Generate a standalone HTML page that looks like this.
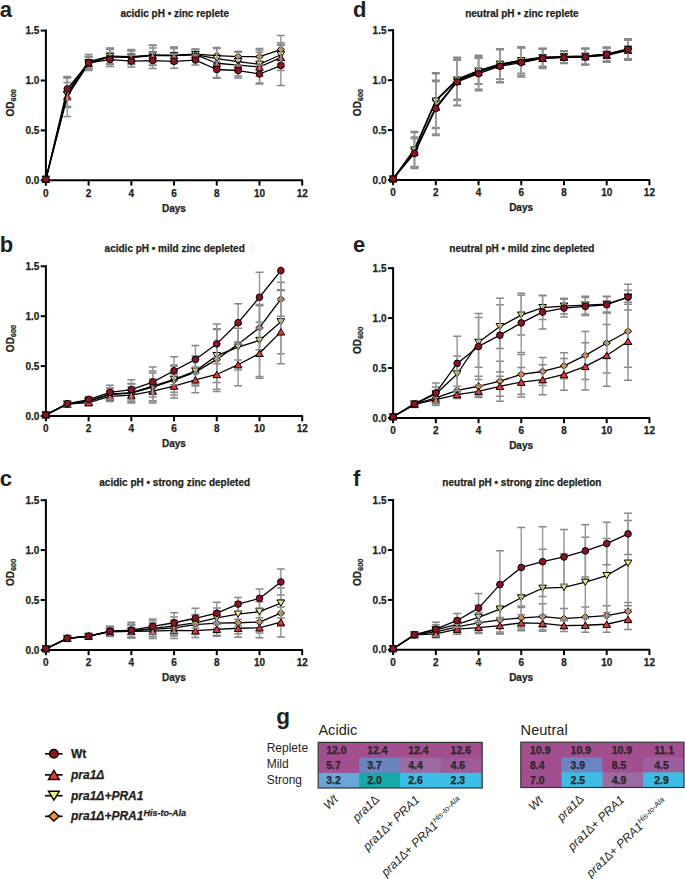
<!DOCTYPE html><html><head><meta charset="utf-8"><style>
html,body{margin:0;padding:0;background:#fff;}
svg{display:block;}
text{font-family:"Liberation Sans",sans-serif;fill:#000;}
.tt,.tk,.lg,.hm{stroke:#231f20;stroke-width:0.25px;}
.pl{font-size:22px;font-weight:bold;fill:#231f20;}
.tt{font-size:10px;font-weight:bold;fill:#231f20;}
.tk{font-size:10px;font-weight:bold;fill:#231f20;}
.sub{font-size:7.4px;}
.lg{font-size:12px;font-weight:bold;font-style:italic;fill:#231f20;}
.hm{font-size:10.5px;font-weight:bold;fill:#2a2a2a;}
.rl{font-size:12px;fill:#231f20;}
.hd{font-size:14.6px;fill:#231f20;}
.xl{font-size:12px;font-style:italic;fill:#231f20;}
</style></head><body>
<svg width="685" height="879" viewBox="0 0 685 879">
<rect width="685" height="879" fill="#fff"/>
<text x="-0.3" y="16.7" class="pl">a</text>
<text x="174.7" y="16.6" class="tt" text-anchor="middle">acidic pH • zinc replete</text>
<path d="M45.9 30.6V180.3H301.9" fill="none" stroke="#000" stroke-width="2" stroke-linecap="square"/>
<path d="M40.7 180.3H45.9" stroke="#000" stroke-width="2"/>
<text x="39.3" y="183.9" class="tk" text-anchor="end">0.0</text>
<path d="M40.7 130.4H45.9" stroke="#000" stroke-width="2"/>
<text x="39.3" y="134" class="tk" text-anchor="end">0.5</text>
<path d="M40.7 80.5H45.9" stroke="#000" stroke-width="2"/>
<text x="39.3" y="84.1" class="tk" text-anchor="end">1.0</text>
<path d="M40.7 30.6H45.9" stroke="#000" stroke-width="2"/>
<text x="39.3" y="34.2" class="tk" text-anchor="end">1.5</text>
<path d="M45.9 180.3V185.6" stroke="#000" stroke-width="2"/>
<text x="45.9" y="196.6" class="tk" text-anchor="middle">0</text>
<path d="M88.62 180.3V185.6" stroke="#000" stroke-width="2"/>
<text x="88.62" y="196.6" class="tk" text-anchor="middle">2</text>
<path d="M131.34 180.3V185.6" stroke="#000" stroke-width="2"/>
<text x="131.34" y="196.6" class="tk" text-anchor="middle">4</text>
<path d="M174.06 180.3V185.6" stroke="#000" stroke-width="2"/>
<text x="174.06" y="196.6" class="tk" text-anchor="middle">6</text>
<path d="M216.78 180.3V185.6" stroke="#000" stroke-width="2"/>
<text x="216.78" y="196.6" class="tk" text-anchor="middle">8</text>
<path d="M259.5 180.3V185.6" stroke="#000" stroke-width="2"/>
<text x="259.5" y="196.6" class="tk" text-anchor="middle">10</text>
<path d="M302.22 180.3V185.6" stroke="#000" stroke-width="2"/>
<text x="302.22" y="196.6" class="tk" text-anchor="middle">12</text>
<text x="173.9" y="211.6" class="tk" text-anchor="middle">Days</text>
<text transform="translate(13.8 116.45) rotate(-90)" class="tk">OD<tspan class="sub" dy="1.9">600</tspan></text>
<path d="M67.26 77.51V107.45" stroke="#9a9a9a" stroke-width="1.5" fill="none"/>
<path d="M63.31 107.45H71.21M63.31 77.51H71.21" stroke="#888" stroke-width="1.5" fill="none"/>
<path d="M88.62 54.55V68.52" stroke="#9a9a9a" stroke-width="1.5" fill="none"/>
<path d="M84.67 68.52H92.57M84.67 54.55H92.57" stroke="#888" stroke-width="1.5" fill="none"/>
<path d="M109.98 48.06V64.03" stroke="#9a9a9a" stroke-width="1.5" fill="none"/>
<path d="M106.03 64.03H113.93M106.03 48.06H113.93" stroke="#888" stroke-width="1.5" fill="none"/>
<path d="M131.34 49.56V63.53" stroke="#9a9a9a" stroke-width="1.5" fill="none"/>
<path d="M127.39 63.53H135.29M127.39 49.56H135.29" stroke="#888" stroke-width="1.5" fill="none"/>
<path d="M152.7 45.07V65.03" stroke="#9a9a9a" stroke-width="1.5" fill="none"/>
<path d="M148.75 65.03H156.65M148.75 45.07H156.65" stroke="#888" stroke-width="1.5" fill="none"/>
<path d="M174.06 47.07V63.04" stroke="#9a9a9a" stroke-width="1.5" fill="none"/>
<path d="M170.11 63.04H178.01M170.11 47.07H178.01" stroke="#888" stroke-width="1.5" fill="none"/>
<path d="M195.42 49.06V59.04" stroke="#9a9a9a" stroke-width="1.5" fill="none"/>
<path d="M191.47 59.04H199.37M191.47 49.06H199.37" stroke="#888" stroke-width="1.5" fill="none"/>
<path d="M216.78 47.57V63.53" stroke="#9a9a9a" stroke-width="1.5" fill="none"/>
<path d="M212.83 63.53H220.73M212.83 47.57H220.73" stroke="#888" stroke-width="1.5" fill="none"/>
<path d="M238.14 51.56V61.54" stroke="#9a9a9a" stroke-width="1.5" fill="none"/>
<path d="M234.19 61.54H242.09M234.19 51.56H242.09" stroke="#888" stroke-width="1.5" fill="none"/>
<path d="M259.5 48.56V64.53" stroke="#9a9a9a" stroke-width="1.5" fill="none"/>
<path d="M255.55 64.53H263.45M255.55 48.56H263.45" stroke="#888" stroke-width="1.5" fill="none"/>
<path d="M280.86 35.59V63.53" stroke="#9a9a9a" stroke-width="1.5" fill="none"/>
<path d="M276.91 63.53H284.81M276.91 35.59H284.81" stroke="#888" stroke-width="1.5" fill="none"/>
<polyline points="45.9,179.2 67.26,92.48 88.62,61.54 109.98,56.05 131.34,56.55 152.7,55.05 174.06,55.05 195.42,54.05 216.78,55.55 238.14,56.55 259.5,56.55 280.86,49.56" fill="none" stroke="#000" stroke-width="1.3" stroke-linejoin="round"/>
<path d="M45.9 175.8L49.6 179.2L45.9 182.6L42.2 179.2Z" fill="#f09030" stroke="#000" stroke-width="1.0"/>
<path d="M67.26 89.08L70.96 92.48L67.26 95.88L63.56 92.48Z" fill="#f09030" stroke="#000" stroke-width="1.0"/>
<path d="M88.62 58.14L92.32 61.54L88.62 64.94L84.92 61.54Z" fill="#f09030" stroke="#000" stroke-width="1.0"/>
<path d="M109.98 52.65L113.68 56.05L109.98 59.45L106.28 56.05Z" fill="#f09030" stroke="#000" stroke-width="1.0"/>
<path d="M131.34 53.15L135.04 56.55L131.34 59.95L127.64 56.55Z" fill="#f09030" stroke="#000" stroke-width="1.0"/>
<path d="M152.7 51.65L156.4 55.05L152.7 58.45L149 55.05Z" fill="#f09030" stroke="#000" stroke-width="1.0"/>
<path d="M174.06 51.65L177.76 55.05L174.06 58.45L170.36 55.05Z" fill="#f09030" stroke="#000" stroke-width="1.0"/>
<path d="M195.42 50.65L199.12 54.05L195.42 57.45L191.72 54.05Z" fill="#f09030" stroke="#000" stroke-width="1.0"/>
<path d="M216.78 52.15L220.48 55.55L216.78 58.95L213.08 55.55Z" fill="#f09030" stroke="#000" stroke-width="1.0"/>
<path d="M238.14 53.15L241.84 56.55L238.14 59.95L234.44 56.55Z" fill="#f09030" stroke="#000" stroke-width="1.0"/>
<path d="M259.5 53.15L263.2 56.55L259.5 59.95L255.8 56.55Z" fill="#f09030" stroke="#000" stroke-width="1.0"/>
<path d="M280.86 46.16L284.56 49.56L280.86 52.96L277.16 49.56Z" fill="#f09030" stroke="#000" stroke-width="1.0"/>
<path d="M67.26 82.5V106.45" stroke="#9a9a9a" stroke-width="1.5" fill="none"/>
<path d="M63.31 106.45H71.21M63.31 82.5H71.21" stroke="#888" stroke-width="1.5" fill="none"/>
<path d="M88.62 56.55V68.52" stroke="#9a9a9a" stroke-width="1.5" fill="none"/>
<path d="M84.67 68.52H92.57M84.67 56.55H92.57" stroke="#888" stroke-width="1.5" fill="none"/>
<path d="M109.98 49.56V63.53" stroke="#9a9a9a" stroke-width="1.5" fill="none"/>
<path d="M106.03 63.53H113.93M106.03 49.56H113.93" stroke="#888" stroke-width="1.5" fill="none"/>
<path d="M131.34 51.06V63.04" stroke="#9a9a9a" stroke-width="1.5" fill="none"/>
<path d="M127.39 63.04H135.29M127.39 51.06H135.29" stroke="#888" stroke-width="1.5" fill="none"/>
<path d="M152.7 48.07V62.04" stroke="#9a9a9a" stroke-width="1.5" fill="none"/>
<path d="M148.75 62.04H156.65M148.75 48.07H156.65" stroke="#888" stroke-width="1.5" fill="none"/>
<path d="M174.06 48.56V62.54" stroke="#9a9a9a" stroke-width="1.5" fill="none"/>
<path d="M170.11 62.54H178.01M170.11 48.56H178.01" stroke="#888" stroke-width="1.5" fill="none"/>
<path d="M195.42 49.56V59.54" stroke="#9a9a9a" stroke-width="1.5" fill="none"/>
<path d="M191.47 59.54H199.37M191.47 49.56H199.37" stroke="#888" stroke-width="1.5" fill="none"/>
<path d="M216.78 48.56V68.52" stroke="#9a9a9a" stroke-width="1.5" fill="none"/>
<path d="M212.83 68.52H220.73M212.83 48.56H220.73" stroke="#888" stroke-width="1.5" fill="none"/>
<path d="M238.14 51.56V71.52" stroke="#9a9a9a" stroke-width="1.5" fill="none"/>
<path d="M234.19 71.52H242.09M234.19 51.56H242.09" stroke="#888" stroke-width="1.5" fill="none"/>
<path d="M259.5 52.26V76.21" stroke="#9a9a9a" stroke-width="1.5" fill="none"/>
<path d="M255.55 76.21H263.45M255.55 52.26H263.45" stroke="#888" stroke-width="1.5" fill="none"/>
<path d="M280.86 42.78V66.73" stroke="#9a9a9a" stroke-width="1.5" fill="none"/>
<path d="M276.91 66.73H284.81M276.91 42.78H284.81" stroke="#888" stroke-width="1.5" fill="none"/>
<polyline points="45.9,179.2 67.26,94.47 88.62,62.54 109.98,56.55 131.34,57.05 152.7,55.05 174.06,55.55 195.42,54.55 216.78,58.54 238.14,61.54 259.5,64.23 280.86,54.75" fill="none" stroke="#000" stroke-width="1.3" stroke-linejoin="round"/>
<path d="M45.9 182.3L49.7 176.1L42.1 176.1Z" fill="#f0ea7a" stroke="#000" stroke-width="1.0" stroke-linejoin="miter"/>
<path d="M67.26 97.57L71.06 91.37L63.46 91.37Z" fill="#f0ea7a" stroke="#000" stroke-width="1.0" stroke-linejoin="miter"/>
<path d="M88.62 65.64L92.42 59.44L84.82 59.44Z" fill="#f0ea7a" stroke="#000" stroke-width="1.0" stroke-linejoin="miter"/>
<path d="M109.98 59.65L113.78 53.45L106.18 53.45Z" fill="#f0ea7a" stroke="#000" stroke-width="1.0" stroke-linejoin="miter"/>
<path d="M131.34 60.15L135.14 53.95L127.54 53.95Z" fill="#f0ea7a" stroke="#000" stroke-width="1.0" stroke-linejoin="miter"/>
<path d="M152.7 58.15L156.5 51.95L148.9 51.95Z" fill="#f0ea7a" stroke="#000" stroke-width="1.0" stroke-linejoin="miter"/>
<path d="M174.06 58.65L177.86 52.45L170.26 52.45Z" fill="#f0ea7a" stroke="#000" stroke-width="1.0" stroke-linejoin="miter"/>
<path d="M195.42 57.65L199.22 51.45L191.62 51.45Z" fill="#f0ea7a" stroke="#000" stroke-width="1.0" stroke-linejoin="miter"/>
<path d="M216.78 61.64L220.58 55.44L212.98 55.44Z" fill="#f0ea7a" stroke="#000" stroke-width="1.0" stroke-linejoin="miter"/>
<path d="M238.14 64.64L241.94 58.44L234.34 58.44Z" fill="#f0ea7a" stroke="#000" stroke-width="1.0" stroke-linejoin="miter"/>
<path d="M259.5 67.33L263.3 61.13L255.7 61.13Z" fill="#f0ea7a" stroke="#000" stroke-width="1.0" stroke-linejoin="miter"/>
<path d="M280.86 57.85L284.66 51.65L277.06 51.65Z" fill="#f0ea7a" stroke="#000" stroke-width="1.0" stroke-linejoin="miter"/>
<path d="M67.26 76.51V116.43" stroke="#9a9a9a" stroke-width="1.5" fill="none"/>
<path d="M63.31 116.43H71.21M63.31 76.51H71.21" stroke="#888" stroke-width="1.5" fill="none"/>
<path d="M88.62 56.55V70.52" stroke="#9a9a9a" stroke-width="1.5" fill="none"/>
<path d="M84.67 70.52H92.57M84.67 56.55H92.57" stroke="#888" stroke-width="1.5" fill="none"/>
<path d="M109.98 48.56V64.53" stroke="#9a9a9a" stroke-width="1.5" fill="none"/>
<path d="M106.03 64.53H113.93M106.03 48.56H113.93" stroke="#888" stroke-width="1.5" fill="none"/>
<path d="M131.34 50.56V64.53" stroke="#9a9a9a" stroke-width="1.5" fill="none"/>
<path d="M127.39 64.53H135.29M127.39 50.56H135.29" stroke="#888" stroke-width="1.5" fill="none"/>
<path d="M152.7 45.57V65.53" stroke="#9a9a9a" stroke-width="1.5" fill="none"/>
<path d="M148.75 65.53H156.65M148.75 45.57H156.65" stroke="#888" stroke-width="1.5" fill="none"/>
<path d="M174.06 47.57V63.53" stroke="#9a9a9a" stroke-width="1.5" fill="none"/>
<path d="M170.11 63.53H178.01M170.11 47.57H178.01" stroke="#888" stroke-width="1.5" fill="none"/>
<path d="M195.42 49.56V59.54" stroke="#9a9a9a" stroke-width="1.5" fill="none"/>
<path d="M191.47 59.54H199.37M191.47 49.56H199.37" stroke="#888" stroke-width="1.5" fill="none"/>
<path d="M216.78 48.26V78.2" stroke="#9a9a9a" stroke-width="1.5" fill="none"/>
<path d="M212.83 78.2H220.73M212.83 48.26H220.73" stroke="#888" stroke-width="1.5" fill="none"/>
<path d="M238.14 52.16V78.1" stroke="#9a9a9a" stroke-width="1.5" fill="none"/>
<path d="M234.19 78.1H242.09M234.19 52.16H242.09" stroke="#888" stroke-width="1.5" fill="none"/>
<path d="M259.5 50.06V83.99" stroke="#9a9a9a" stroke-width="1.5" fill="none"/>
<path d="M255.55 83.99H263.45M255.55 50.06H263.45" stroke="#888" stroke-width="1.5" fill="none"/>
<path d="M280.86 44.57V70.52" stroke="#9a9a9a" stroke-width="1.5" fill="none"/>
<path d="M276.91 70.52H284.81M276.91 44.57H284.81" stroke="#888" stroke-width="1.5" fill="none"/>
<polyline points="45.9,179.2 67.26,96.47 88.62,63.53 109.98,56.55 131.34,57.55 152.7,55.55 174.06,55.55 195.42,54.55 216.78,63.23 238.14,65.13 259.5,67.03 280.86,57.55" fill="none" stroke="#000" stroke-width="1.3" stroke-linejoin="round"/>
<path d="M45.9 176L49.7 182.4L42.1 182.4Z" fill="#ee3535" stroke="#000" stroke-width="1.0" stroke-linejoin="miter"/>
<path d="M67.26 93.27L71.06 99.67L63.46 99.67Z" fill="#ee3535" stroke="#000" stroke-width="1.0" stroke-linejoin="miter"/>
<path d="M88.62 60.33L92.42 66.73L84.82 66.73Z" fill="#ee3535" stroke="#000" stroke-width="1.0" stroke-linejoin="miter"/>
<path d="M109.98 53.35L113.78 59.75L106.18 59.75Z" fill="#ee3535" stroke="#000" stroke-width="1.0" stroke-linejoin="miter"/>
<path d="M131.34 54.35L135.14 60.75L127.54 60.75Z" fill="#ee3535" stroke="#000" stroke-width="1.0" stroke-linejoin="miter"/>
<path d="M152.7 52.35L156.5 58.75L148.9 58.75Z" fill="#ee3535" stroke="#000" stroke-width="1.0" stroke-linejoin="miter"/>
<path d="M174.06 52.35L177.86 58.75L170.26 58.75Z" fill="#ee3535" stroke="#000" stroke-width="1.0" stroke-linejoin="miter"/>
<path d="M195.42 51.35L199.22 57.75L191.62 57.75Z" fill="#ee3535" stroke="#000" stroke-width="1.0" stroke-linejoin="miter"/>
<path d="M216.78 60.03L220.58 66.43L212.98 66.43Z" fill="#ee3535" stroke="#000" stroke-width="1.0" stroke-linejoin="miter"/>
<path d="M238.14 61.93L241.94 68.33L234.34 68.33Z" fill="#ee3535" stroke="#000" stroke-width="1.0" stroke-linejoin="miter"/>
<path d="M259.5 63.83L263.3 70.23L255.7 70.23Z" fill="#ee3535" stroke="#000" stroke-width="1.0" stroke-linejoin="miter"/>
<path d="M280.86 54.35L284.66 60.75L277.06 60.75Z" fill="#ee3535" stroke="#000" stroke-width="1.0" stroke-linejoin="miter"/>
<path d="M67.26 78V99.96" stroke="#9a9a9a" stroke-width="1.5" fill="none"/>
<path d="M63.31 99.96H71.21M63.31 78H71.21" stroke="#888" stroke-width="1.5" fill="none"/>
<path d="M88.62 56.95V68.92" stroke="#9a9a9a" stroke-width="1.5" fill="none"/>
<path d="M84.67 68.92H92.57M84.67 56.95H92.57" stroke="#888" stroke-width="1.5" fill="none"/>
<path d="M109.98 52.56V66.53" stroke="#9a9a9a" stroke-width="1.5" fill="none"/>
<path d="M106.03 66.53H113.93M106.03 52.56H113.93" stroke="#888" stroke-width="1.5" fill="none"/>
<path d="M131.34 55.05V67.03" stroke="#9a9a9a" stroke-width="1.5" fill="none"/>
<path d="M127.39 67.03H135.29M127.39 55.05H135.29" stroke="#888" stroke-width="1.5" fill="none"/>
<path d="M152.7 52.56V68.52" stroke="#9a9a9a" stroke-width="1.5" fill="none"/>
<path d="M148.75 68.52H156.65M148.75 52.56H156.65" stroke="#888" stroke-width="1.5" fill="none"/>
<path d="M174.06 54.35V68.32" stroke="#9a9a9a" stroke-width="1.5" fill="none"/>
<path d="M170.11 68.32H178.01M170.11 54.35H178.01" stroke="#888" stroke-width="1.5" fill="none"/>
<path d="M195.42 55.05V65.03" stroke="#9a9a9a" stroke-width="1.5" fill="none"/>
<path d="M191.47 65.03H199.37M191.47 55.05H199.37" stroke="#888" stroke-width="1.5" fill="none"/>
<path d="M216.78 61.54V77.51" stroke="#9a9a9a" stroke-width="1.5" fill="none"/>
<path d="M212.83 77.51H220.73M212.83 61.54H220.73" stroke="#888" stroke-width="1.5" fill="none"/>
<path d="M238.14 65.03V76.01" stroke="#9a9a9a" stroke-width="1.5" fill="none"/>
<path d="M234.19 76.01H242.09M234.19 65.03H242.09" stroke="#888" stroke-width="1.5" fill="none"/>
<path d="M259.5 65.03V83" stroke="#9a9a9a" stroke-width="1.5" fill="none"/>
<path d="M255.55 83H263.45M255.55 65.03H263.45" stroke="#888" stroke-width="1.5" fill="none"/>
<path d="M280.86 45.57V85.49" stroke="#9a9a9a" stroke-width="1.5" fill="none"/>
<path d="M276.91 85.49H284.81M276.91 45.57H284.81" stroke="#888" stroke-width="1.5" fill="none"/>
<polyline points="45.9,179.2 67.26,88.98 88.62,62.94 109.98,59.54 131.34,61.04 152.7,60.54 174.06,61.34 195.42,60.04 216.78,69.52 238.14,70.52 259.5,74.01 280.86,65.53" fill="none" stroke="#000" stroke-width="1.3" stroke-linejoin="round"/>
<circle cx="45.9" cy="179.2" r="3.3" fill="#93121f" stroke="#000" stroke-width="1.0"/>
<circle cx="67.26" cy="88.98" r="3.3" fill="#93121f" stroke="#000" stroke-width="1.0"/>
<circle cx="88.62" cy="62.94" r="3.3" fill="#93121f" stroke="#000" stroke-width="1.0"/>
<circle cx="109.98" cy="59.54" r="3.3" fill="#93121f" stroke="#000" stroke-width="1.0"/>
<circle cx="131.34" cy="61.04" r="3.3" fill="#93121f" stroke="#000" stroke-width="1.0"/>
<circle cx="152.7" cy="60.54" r="3.3" fill="#93121f" stroke="#000" stroke-width="1.0"/>
<circle cx="174.06" cy="61.34" r="3.3" fill="#93121f" stroke="#000" stroke-width="1.0"/>
<circle cx="195.42" cy="60.04" r="3.3" fill="#93121f" stroke="#000" stroke-width="1.0"/>
<circle cx="216.78" cy="69.52" r="3.3" fill="#93121f" stroke="#000" stroke-width="1.0"/>
<circle cx="238.14" cy="70.52" r="3.3" fill="#93121f" stroke="#000" stroke-width="1.0"/>
<circle cx="259.5" cy="74.01" r="3.3" fill="#93121f" stroke="#000" stroke-width="1.0"/>
<circle cx="280.86" cy="65.53" r="3.3" fill="#93121f" stroke="#000" stroke-width="1.0"/>
<text x="-0.3" y="251.6" class="pl">b</text>
<text x="174.7" y="251.9" class="tt" text-anchor="middle">acidic pH • mild zinc depleted</text>
<path d="M45.9 266.3V416H301.9" fill="none" stroke="#000" stroke-width="2" stroke-linecap="square"/>
<path d="M40.7 416H45.9" stroke="#000" stroke-width="2"/>
<text x="39.3" y="419.6" class="tk" text-anchor="end">0.0</text>
<path d="M40.7 366.1H45.9" stroke="#000" stroke-width="2"/>
<text x="39.3" y="369.7" class="tk" text-anchor="end">0.5</text>
<path d="M40.7 316.2H45.9" stroke="#000" stroke-width="2"/>
<text x="39.3" y="319.8" class="tk" text-anchor="end">1.0</text>
<path d="M40.7 266.3H45.9" stroke="#000" stroke-width="2"/>
<text x="39.3" y="269.9" class="tk" text-anchor="end">1.5</text>
<path d="M45.9 416V421.3" stroke="#000" stroke-width="2"/>
<text x="45.9" y="432.3" class="tk" text-anchor="middle">0</text>
<path d="M88.62 416V421.3" stroke="#000" stroke-width="2"/>
<text x="88.62" y="432.3" class="tk" text-anchor="middle">2</text>
<path d="M131.34 416V421.3" stroke="#000" stroke-width="2"/>
<text x="131.34" y="432.3" class="tk" text-anchor="middle">4</text>
<path d="M174.06 416V421.3" stroke="#000" stroke-width="2"/>
<text x="174.06" y="432.3" class="tk" text-anchor="middle">6</text>
<path d="M216.78 416V421.3" stroke="#000" stroke-width="2"/>
<text x="216.78" y="432.3" class="tk" text-anchor="middle">8</text>
<path d="M259.5 416V421.3" stroke="#000" stroke-width="2"/>
<text x="259.5" y="432.3" class="tk" text-anchor="middle">10</text>
<path d="M302.22 416V421.3" stroke="#000" stroke-width="2"/>
<text x="302.22" y="432.3" class="tk" text-anchor="middle">12</text>
<text x="173.9" y="447.3" class="tk" text-anchor="middle">Days</text>
<text transform="translate(13.8 352.15) rotate(-90)" class="tk">OD<tspan class="sub" dy="1.9">600</tspan></text>
<path d="M67.26 401.03V407.02" stroke="#9a9a9a" stroke-width="1.5" fill="none"/>
<path d="M63.31 407.02H71.21M63.31 401.03H71.21" stroke="#888" stroke-width="1.5" fill="none"/>
<path d="M88.62 398.04V404.02" stroke="#9a9a9a" stroke-width="1.5" fill="none"/>
<path d="M84.67 404.02H92.57M84.67 398.04H92.57" stroke="#888" stroke-width="1.5" fill="none"/>
<path d="M109.98 388.56V400.53" stroke="#9a9a9a" stroke-width="1.5" fill="none"/>
<path d="M106.03 400.53H113.93M106.03 388.56H113.93" stroke="#888" stroke-width="1.5" fill="none"/>
<path d="M131.34 384.06V402.03" stroke="#9a9a9a" stroke-width="1.5" fill="none"/>
<path d="M127.39 402.03H135.29M127.39 384.06H135.29" stroke="#888" stroke-width="1.5" fill="none"/>
<path d="M152.7 373.09V401.03" stroke="#9a9a9a" stroke-width="1.5" fill="none"/>
<path d="M148.75 401.03H156.65M148.75 373.09H156.65" stroke="#888" stroke-width="1.5" fill="none"/>
<path d="M174.06 365.1V395.04" stroke="#9a9a9a" stroke-width="1.5" fill="none"/>
<path d="M170.11 395.04H178.01M170.11 365.1H178.01" stroke="#888" stroke-width="1.5" fill="none"/>
<path d="M195.42 359.11V385.06" stroke="#9a9a9a" stroke-width="1.5" fill="none"/>
<path d="M191.47 385.06H199.37M191.47 359.11H199.37" stroke="#888" stroke-width="1.5" fill="none"/>
<path d="M216.78 329.47V389.35" stroke="#9a9a9a" stroke-width="1.5" fill="none"/>
<path d="M212.83 389.35H220.73M212.83 329.47H220.73" stroke="#888" stroke-width="1.5" fill="none"/>
<path d="M238.14 328.18V360.11" stroke="#9a9a9a" stroke-width="1.5" fill="none"/>
<path d="M234.19 360.11H242.09M234.19 328.18H242.09" stroke="#888" stroke-width="1.5" fill="none"/>
<path d="M259.5 305.72V349.63" stroke="#9a9a9a" stroke-width="1.5" fill="none"/>
<path d="M255.55 349.63H263.45M255.55 305.72H263.45" stroke="#888" stroke-width="1.5" fill="none"/>
<path d="M280.86 282.27V316.2" stroke="#9a9a9a" stroke-width="1.5" fill="none"/>
<path d="M276.91 316.2H284.81M276.91 282.27H284.81" stroke="#888" stroke-width="1.5" fill="none"/>
<polyline points="45.9,414.9 67.26,404.02 88.62,401.03 109.98,394.54 131.34,393.05 152.7,387.06 174.06,380.07 195.42,372.09 216.78,359.41 238.14,344.14 259.5,327.68 280.86,299.23" fill="none" stroke="#000" stroke-width="1.3" stroke-linejoin="round"/>
<path d="M45.9 411.5L49.6 414.9L45.9 418.3L42.2 414.9Z" fill="#f09030" stroke="#000" stroke-width="1.0"/>
<path d="M67.26 400.62L70.96 404.02L67.26 407.42L63.56 404.02Z" fill="#f09030" stroke="#000" stroke-width="1.0"/>
<path d="M88.62 397.63L92.32 401.03L88.62 404.43L84.92 401.03Z" fill="#f09030" stroke="#000" stroke-width="1.0"/>
<path d="M109.98 391.14L113.68 394.54L109.98 397.94L106.28 394.54Z" fill="#f09030" stroke="#000" stroke-width="1.0"/>
<path d="M131.34 389.65L135.04 393.05L131.34 396.45L127.64 393.05Z" fill="#f09030" stroke="#000" stroke-width="1.0"/>
<path d="M152.7 383.66L156.4 387.06L152.7 390.46L149 387.06Z" fill="#f09030" stroke="#000" stroke-width="1.0"/>
<path d="M174.06 376.67L177.76 380.07L174.06 383.47L170.36 380.07Z" fill="#f09030" stroke="#000" stroke-width="1.0"/>
<path d="M195.42 368.69L199.12 372.09L195.42 375.49L191.72 372.09Z" fill="#f09030" stroke="#000" stroke-width="1.0"/>
<path d="M216.78 356.01L220.48 359.41L216.78 362.81L213.08 359.41Z" fill="#f09030" stroke="#000" stroke-width="1.0"/>
<path d="M238.14 340.74L241.84 344.14L238.14 347.54L234.44 344.14Z" fill="#f09030" stroke="#000" stroke-width="1.0"/>
<path d="M259.5 324.28L263.2 327.68L259.5 331.08L255.8 327.68Z" fill="#f09030" stroke="#000" stroke-width="1.0"/>
<path d="M280.86 295.83L284.56 299.23L280.86 302.63L277.16 299.23Z" fill="#f09030" stroke="#000" stroke-width="1.0"/>
<path d="M67.26 401.03V407.02" stroke="#9a9a9a" stroke-width="1.5" fill="none"/>
<path d="M63.31 407.02H71.21M63.31 401.03H71.21" stroke="#888" stroke-width="1.5" fill="none"/>
<path d="M88.62 398.04V404.02" stroke="#9a9a9a" stroke-width="1.5" fill="none"/>
<path d="M84.67 404.02H92.57M84.67 398.04H92.57" stroke="#888" stroke-width="1.5" fill="none"/>
<path d="M109.98 388.06V400.03" stroke="#9a9a9a" stroke-width="1.5" fill="none"/>
<path d="M106.03 400.03H113.93M106.03 388.06H113.93" stroke="#888" stroke-width="1.5" fill="none"/>
<path d="M131.34 383.56V401.53" stroke="#9a9a9a" stroke-width="1.5" fill="none"/>
<path d="M127.39 401.53H135.29M127.39 383.56H135.29" stroke="#888" stroke-width="1.5" fill="none"/>
<path d="M152.7 371.09V401.03" stroke="#9a9a9a" stroke-width="1.5" fill="none"/>
<path d="M148.75 401.03H156.65M148.75 371.09H156.65" stroke="#888" stroke-width="1.5" fill="none"/>
<path d="M174.06 366.3V392.25" stroke="#9a9a9a" stroke-width="1.5" fill="none"/>
<path d="M170.11 392.25H178.01M170.11 366.3H178.01" stroke="#888" stroke-width="1.5" fill="none"/>
<path d="M195.42 356.12V386.06" stroke="#9a9a9a" stroke-width="1.5" fill="none"/>
<path d="M191.47 386.06H199.37M191.47 356.12H199.37" stroke="#888" stroke-width="1.5" fill="none"/>
<path d="M216.78 328.68V382.57" stroke="#9a9a9a" stroke-width="1.5" fill="none"/>
<path d="M212.83 382.57H220.73M212.83 328.68H220.73" stroke="#888" stroke-width="1.5" fill="none"/>
<path d="M238.14 324.18V370.09" stroke="#9a9a9a" stroke-width="1.5" fill="none"/>
<path d="M234.19 370.09H242.09M234.19 324.18H242.09" stroke="#888" stroke-width="1.5" fill="none"/>
<path d="M259.5 304.52V376.38" stroke="#9a9a9a" stroke-width="1.5" fill="none"/>
<path d="M255.55 376.38H263.45M255.55 304.52H263.45" stroke="#888" stroke-width="1.5" fill="none"/>
<path d="M280.86 289.85V353.72" stroke="#9a9a9a" stroke-width="1.5" fill="none"/>
<path d="M276.91 353.72H284.81M276.91 289.85H284.81" stroke="#888" stroke-width="1.5" fill="none"/>
<polyline points="45.9,414.9 67.26,404.02 88.62,401.03 109.98,394.04 131.34,392.55 152.7,386.06 174.06,379.27 195.42,371.09 216.78,355.62 238.14,347.14 259.5,340.45 280.86,321.79" fill="none" stroke="#000" stroke-width="1.3" stroke-linejoin="round"/>
<path d="M45.9 418L49.7 411.8L42.1 411.8Z" fill="#f0ea7a" stroke="#000" stroke-width="1.0" stroke-linejoin="miter"/>
<path d="M67.26 407.12L71.06 400.92L63.46 400.92Z" fill="#f0ea7a" stroke="#000" stroke-width="1.0" stroke-linejoin="miter"/>
<path d="M88.62 404.13L92.42 397.93L84.82 397.93Z" fill="#f0ea7a" stroke="#000" stroke-width="1.0" stroke-linejoin="miter"/>
<path d="M109.98 397.14L113.78 390.94L106.18 390.94Z" fill="#f0ea7a" stroke="#000" stroke-width="1.0" stroke-linejoin="miter"/>
<path d="M131.34 395.65L135.14 389.45L127.54 389.45Z" fill="#f0ea7a" stroke="#000" stroke-width="1.0" stroke-linejoin="miter"/>
<path d="M152.7 389.16L156.5 382.96L148.9 382.96Z" fill="#f0ea7a" stroke="#000" stroke-width="1.0" stroke-linejoin="miter"/>
<path d="M174.06 382.37L177.86 376.17L170.26 376.17Z" fill="#f0ea7a" stroke="#000" stroke-width="1.0" stroke-linejoin="miter"/>
<path d="M195.42 374.19L199.22 367.99L191.62 367.99Z" fill="#f0ea7a" stroke="#000" stroke-width="1.0" stroke-linejoin="miter"/>
<path d="M216.78 358.72L220.58 352.52L212.98 352.52Z" fill="#f0ea7a" stroke="#000" stroke-width="1.0" stroke-linejoin="miter"/>
<path d="M238.14 350.24L241.94 344.04L234.34 344.04Z" fill="#f0ea7a" stroke="#000" stroke-width="1.0" stroke-linejoin="miter"/>
<path d="M259.5 343.55L263.3 337.35L255.7 337.35Z" fill="#f0ea7a" stroke="#000" stroke-width="1.0" stroke-linejoin="miter"/>
<path d="M280.86 324.89L284.66 318.69L277.06 318.69Z" fill="#f0ea7a" stroke="#000" stroke-width="1.0" stroke-linejoin="miter"/>
<path d="M67.26 401.03V407.02" stroke="#9a9a9a" stroke-width="1.5" fill="none"/>
<path d="M63.31 407.02H71.21M63.31 401.03H71.21" stroke="#888" stroke-width="1.5" fill="none"/>
<path d="M88.62 399.63V405.62" stroke="#9a9a9a" stroke-width="1.5" fill="none"/>
<path d="M84.67 405.62H92.57M84.67 399.63H92.57" stroke="#888" stroke-width="1.5" fill="none"/>
<path d="M109.98 391.45V401.43" stroke="#9a9a9a" stroke-width="1.5" fill="none"/>
<path d="M106.03 401.43H113.93M106.03 391.45H113.93" stroke="#888" stroke-width="1.5" fill="none"/>
<path d="M131.34 387.06V403.03" stroke="#9a9a9a" stroke-width="1.5" fill="none"/>
<path d="M127.39 403.03H135.29M127.39 387.06H135.29" stroke="#888" stroke-width="1.5" fill="none"/>
<path d="M152.7 379.07V403.03" stroke="#9a9a9a" stroke-width="1.5" fill="none"/>
<path d="M148.75 403.03H156.65M148.75 379.07H156.65" stroke="#888" stroke-width="1.5" fill="none"/>
<path d="M174.06 374.08V398.04" stroke="#9a9a9a" stroke-width="1.5" fill="none"/>
<path d="M170.11 398.04H178.01M170.11 374.08H178.01" stroke="#888" stroke-width="1.5" fill="none"/>
<path d="M195.42 366.9V392.85" stroke="#9a9a9a" stroke-width="1.5" fill="none"/>
<path d="M191.47 392.85H199.37M191.47 366.9H199.37" stroke="#888" stroke-width="1.5" fill="none"/>
<path d="M216.78 357.52V391.45" stroke="#9a9a9a" stroke-width="1.5" fill="none"/>
<path d="M212.83 391.45H220.73M212.83 357.52H220.73" stroke="#888" stroke-width="1.5" fill="none"/>
<path d="M238.14 343.74V385.66" stroke="#9a9a9a" stroke-width="1.5" fill="none"/>
<path d="M234.19 385.66H242.09M234.19 343.74H242.09" stroke="#888" stroke-width="1.5" fill="none"/>
<path d="M259.5 328.38V378.28" stroke="#9a9a9a" stroke-width="1.5" fill="none"/>
<path d="M255.55 378.28H263.45M255.55 328.38H263.45" stroke="#888" stroke-width="1.5" fill="none"/>
<path d="M280.86 299.93V363.8" stroke="#9a9a9a" stroke-width="1.5" fill="none"/>
<path d="M276.91 363.8H284.81M276.91 299.93H284.81" stroke="#888" stroke-width="1.5" fill="none"/>
<polyline points="45.9,414.9 67.26,404.02 88.62,402.63 109.98,396.44 131.34,395.04 152.7,391.05 174.06,386.06 195.42,379.87 216.78,374.48 238.14,364.7 259.5,353.33 280.86,331.87" fill="none" stroke="#000" stroke-width="1.3" stroke-linejoin="round"/>
<path d="M45.9 411.7L49.7 418.1L42.1 418.1Z" fill="#ee3535" stroke="#000" stroke-width="1.0" stroke-linejoin="miter"/>
<path d="M67.26 400.82L71.06 407.22L63.46 407.22Z" fill="#ee3535" stroke="#000" stroke-width="1.0" stroke-linejoin="miter"/>
<path d="M88.62 399.43L92.42 405.83L84.82 405.83Z" fill="#ee3535" stroke="#000" stroke-width="1.0" stroke-linejoin="miter"/>
<path d="M109.98 393.24L113.78 399.64L106.18 399.64Z" fill="#ee3535" stroke="#000" stroke-width="1.0" stroke-linejoin="miter"/>
<path d="M131.34 391.84L135.14 398.24L127.54 398.24Z" fill="#ee3535" stroke="#000" stroke-width="1.0" stroke-linejoin="miter"/>
<path d="M152.7 387.85L156.5 394.25L148.9 394.25Z" fill="#ee3535" stroke="#000" stroke-width="1.0" stroke-linejoin="miter"/>
<path d="M174.06 382.86L177.86 389.26L170.26 389.26Z" fill="#ee3535" stroke="#000" stroke-width="1.0" stroke-linejoin="miter"/>
<path d="M195.42 376.67L199.22 383.07L191.62 383.07Z" fill="#ee3535" stroke="#000" stroke-width="1.0" stroke-linejoin="miter"/>
<path d="M216.78 371.28L220.58 377.68L212.98 377.68Z" fill="#ee3535" stroke="#000" stroke-width="1.0" stroke-linejoin="miter"/>
<path d="M238.14 361.5L241.94 367.9L234.34 367.9Z" fill="#ee3535" stroke="#000" stroke-width="1.0" stroke-linejoin="miter"/>
<path d="M259.5 350.13L263.3 356.53L255.7 356.53Z" fill="#ee3535" stroke="#000" stroke-width="1.0" stroke-linejoin="miter"/>
<path d="M280.86 328.67L284.66 335.07L277.06 335.07Z" fill="#ee3535" stroke="#000" stroke-width="1.0" stroke-linejoin="miter"/>
<path d="M67.26 400.63V406.62" stroke="#9a9a9a" stroke-width="1.5" fill="none"/>
<path d="M63.31 406.62H71.21M63.31 400.63H71.21" stroke="#888" stroke-width="1.5" fill="none"/>
<path d="M88.62 396.54V402.53" stroke="#9a9a9a" stroke-width="1.5" fill="none"/>
<path d="M84.67 402.53H92.57M84.67 396.54H92.57" stroke="#888" stroke-width="1.5" fill="none"/>
<path d="M109.98 385.36V399.33" stroke="#9a9a9a" stroke-width="1.5" fill="none"/>
<path d="M106.03 399.33H113.93M106.03 385.36H113.93" stroke="#888" stroke-width="1.5" fill="none"/>
<path d="M131.34 379.67V399.63" stroke="#9a9a9a" stroke-width="1.5" fill="none"/>
<path d="M127.39 399.63H135.29M127.39 379.67H135.29" stroke="#888" stroke-width="1.5" fill="none"/>
<path d="M152.7 367.1V397.04" stroke="#9a9a9a" stroke-width="1.5" fill="none"/>
<path d="M148.75 397.04H156.65M148.75 367.1H156.65" stroke="#888" stroke-width="1.5" fill="none"/>
<path d="M174.06 356.82V384.76" stroke="#9a9a9a" stroke-width="1.5" fill="none"/>
<path d="M170.11 384.76H178.01M170.11 356.82H178.01" stroke="#888" stroke-width="1.5" fill="none"/>
<path d="M195.42 345.44V373.39" stroke="#9a9a9a" stroke-width="1.5" fill="none"/>
<path d="M191.47 373.39H199.37M191.47 345.44H199.37" stroke="#888" stroke-width="1.5" fill="none"/>
<path d="M216.78 323.88V363.8" stroke="#9a9a9a" stroke-width="1.5" fill="none"/>
<path d="M212.83 363.8H220.73M212.83 323.88H220.73" stroke="#888" stroke-width="1.5" fill="none"/>
<path d="M238.14 303.73V341.65" stroke="#9a9a9a" stroke-width="1.5" fill="none"/>
<path d="M234.19 341.65H242.09M234.19 303.73H242.09" stroke="#888" stroke-width="1.5" fill="none"/>
<path d="M259.5 272.29V322.19" stroke="#9a9a9a" stroke-width="1.5" fill="none"/>
<path d="M255.55 322.19H263.45M255.55 272.29H263.45" stroke="#888" stroke-width="1.5" fill="none"/>
<path d="M280.86 266.3V290.55" stroke="#9a9a9a" stroke-width="1.5" fill="none"/>
<path d="M276.91 290.55H284.81" stroke="#888" stroke-width="1.5" fill="none"/>
<polyline points="45.9,414.9 67.26,403.62 88.62,399.53 109.98,392.35 131.34,389.65 152.7,382.07 174.06,370.79 195.42,359.41 216.78,343.84 238.14,322.69 259.5,297.24 280.86,270.59" fill="none" stroke="#000" stroke-width="1.3" stroke-linejoin="round"/>
<circle cx="45.9" cy="414.9" r="3.3" fill="#93121f" stroke="#000" stroke-width="1.0"/>
<circle cx="67.26" cy="403.62" r="3.3" fill="#93121f" stroke="#000" stroke-width="1.0"/>
<circle cx="88.62" cy="399.53" r="3.3" fill="#93121f" stroke="#000" stroke-width="1.0"/>
<circle cx="109.98" cy="392.35" r="3.3" fill="#93121f" stroke="#000" stroke-width="1.0"/>
<circle cx="131.34" cy="389.65" r="3.3" fill="#93121f" stroke="#000" stroke-width="1.0"/>
<circle cx="152.7" cy="382.07" r="3.3" fill="#93121f" stroke="#000" stroke-width="1.0"/>
<circle cx="174.06" cy="370.79" r="3.3" fill="#93121f" stroke="#000" stroke-width="1.0"/>
<circle cx="195.42" cy="359.41" r="3.3" fill="#93121f" stroke="#000" stroke-width="1.0"/>
<circle cx="216.78" cy="343.84" r="3.3" fill="#93121f" stroke="#000" stroke-width="1.0"/>
<circle cx="238.14" cy="322.69" r="3.3" fill="#93121f" stroke="#000" stroke-width="1.0"/>
<circle cx="259.5" cy="297.24" r="3.3" fill="#93121f" stroke="#000" stroke-width="1.0"/>
<circle cx="280.86" cy="270.59" r="3.3" fill="#93121f" stroke="#000" stroke-width="1.0"/>
<text x="-0.3" y="486.4" class="pl">c</text>
<text x="174.7" y="486.2" class="tt" text-anchor="middle">acidic pH • strong zinc depleted</text>
<path d="M45.9 500.2V649.9H301.9" fill="none" stroke="#000" stroke-width="2" stroke-linecap="square"/>
<path d="M40.7 649.9H45.9" stroke="#000" stroke-width="2"/>
<text x="39.3" y="653.5" class="tk" text-anchor="end">0.0</text>
<path d="M40.7 600H45.9" stroke="#000" stroke-width="2"/>
<text x="39.3" y="603.6" class="tk" text-anchor="end">0.5</text>
<path d="M40.7 550.1H45.9" stroke="#000" stroke-width="2"/>
<text x="39.3" y="553.7" class="tk" text-anchor="end">1.0</text>
<path d="M40.7 500.2H45.9" stroke="#000" stroke-width="2"/>
<text x="39.3" y="503.8" class="tk" text-anchor="end">1.5</text>
<path d="M45.9 649.9V655.2" stroke="#000" stroke-width="2"/>
<text x="45.9" y="666.2" class="tk" text-anchor="middle">0</text>
<path d="M88.62 649.9V655.2" stroke="#000" stroke-width="2"/>
<text x="88.62" y="666.2" class="tk" text-anchor="middle">2</text>
<path d="M131.34 649.9V655.2" stroke="#000" stroke-width="2"/>
<text x="131.34" y="666.2" class="tk" text-anchor="middle">4</text>
<path d="M174.06 649.9V655.2" stroke="#000" stroke-width="2"/>
<text x="174.06" y="666.2" class="tk" text-anchor="middle">6</text>
<path d="M216.78 649.9V655.2" stroke="#000" stroke-width="2"/>
<text x="216.78" y="666.2" class="tk" text-anchor="middle">8</text>
<path d="M259.5 649.9V655.2" stroke="#000" stroke-width="2"/>
<text x="259.5" y="666.2" class="tk" text-anchor="middle">10</text>
<path d="M302.22 649.9V655.2" stroke="#000" stroke-width="2"/>
<text x="302.22" y="666.2" class="tk" text-anchor="middle">12</text>
<text x="173.9" y="681.2" class="tk" text-anchor="middle">Days</text>
<text transform="translate(13.8 586.05) rotate(-90)" class="tk">OD<tspan class="sub" dy="1.9">600</tspan></text>
<path d="M67.26 636.33V640.32" stroke="#9a9a9a" stroke-width="1.5" fill="none"/>
<path d="M63.31 640.32H71.21M63.31 636.33H71.21" stroke="#888" stroke-width="1.5" fill="none"/>
<path d="M88.62 634.23V638.22" stroke="#9a9a9a" stroke-width="1.5" fill="none"/>
<path d="M84.67 638.22H92.57M84.67 634.23H92.57" stroke="#888" stroke-width="1.5" fill="none"/>
<path d="M109.98 627.44V635.43" stroke="#9a9a9a" stroke-width="1.5" fill="none"/>
<path d="M106.03 635.43H113.93M106.03 627.44H113.93" stroke="#888" stroke-width="1.5" fill="none"/>
<path d="M131.34 624.95V636.93" stroke="#9a9a9a" stroke-width="1.5" fill="none"/>
<path d="M127.39 636.93H135.29M127.39 624.95H135.29" stroke="#888" stroke-width="1.5" fill="none"/>
<path d="M152.7 622.45V636.43" stroke="#9a9a9a" stroke-width="1.5" fill="none"/>
<path d="M148.75 636.43H156.65M148.75 622.45H156.65" stroke="#888" stroke-width="1.5" fill="none"/>
<path d="M174.06 619.96V635.93" stroke="#9a9a9a" stroke-width="1.5" fill="none"/>
<path d="M170.11 635.93H178.01M170.11 619.96H178.01" stroke="#888" stroke-width="1.5" fill="none"/>
<path d="M195.42 614.57V634.53" stroke="#9a9a9a" stroke-width="1.5" fill="none"/>
<path d="M191.47 634.53H199.37M191.47 614.57H199.37" stroke="#888" stroke-width="1.5" fill="none"/>
<path d="M216.78 611.18V635.13" stroke="#9a9a9a" stroke-width="1.5" fill="none"/>
<path d="M212.83 635.13H220.73M212.83 611.18H220.73" stroke="#888" stroke-width="1.5" fill="none"/>
<path d="M238.14 611.78V633.73" stroke="#9a9a9a" stroke-width="1.5" fill="none"/>
<path d="M234.19 633.73H242.09M234.19 611.78H242.09" stroke="#888" stroke-width="1.5" fill="none"/>
<path d="M259.5 611.08V633.03" stroke="#9a9a9a" stroke-width="1.5" fill="none"/>
<path d="M255.55 633.03H263.45M255.55 611.08H263.45" stroke="#888" stroke-width="1.5" fill="none"/>
<path d="M280.86 600.2V626.15" stroke="#9a9a9a" stroke-width="1.5" fill="none"/>
<path d="M276.91 626.15H284.81M276.91 600.2H284.81" stroke="#888" stroke-width="1.5" fill="none"/>
<polyline points="45.9,648.8 67.26,638.32 88.62,636.23 109.98,631.44 131.34,630.94 152.7,629.44 174.06,627.94 195.42,624.55 216.78,623.15 238.14,622.75 259.5,622.06 280.86,613.17" fill="none" stroke="#000" stroke-width="1.3" stroke-linejoin="round"/>
<path d="M45.9 645.4L49.6 648.8L45.9 652.2L42.2 648.8Z" fill="#f09030" stroke="#000" stroke-width="1.0"/>
<path d="M67.26 634.92L70.96 638.32L67.26 641.72L63.56 638.32Z" fill="#f09030" stroke="#000" stroke-width="1.0"/>
<path d="M88.62 632.83L92.32 636.23L88.62 639.63L84.92 636.23Z" fill="#f09030" stroke="#000" stroke-width="1.0"/>
<path d="M109.98 628.04L113.68 631.44L109.98 634.84L106.28 631.44Z" fill="#f09030" stroke="#000" stroke-width="1.0"/>
<path d="M131.34 627.54L135.04 630.94L131.34 634.34L127.64 630.94Z" fill="#f09030" stroke="#000" stroke-width="1.0"/>
<path d="M152.7 626.04L156.4 629.44L152.7 632.84L149 629.44Z" fill="#f09030" stroke="#000" stroke-width="1.0"/>
<path d="M174.06 624.54L177.76 627.94L174.06 631.34L170.36 627.94Z" fill="#f09030" stroke="#000" stroke-width="1.0"/>
<path d="M195.42 621.15L199.12 624.55L195.42 627.95L191.72 624.55Z" fill="#f09030" stroke="#000" stroke-width="1.0"/>
<path d="M216.78 619.75L220.48 623.15L216.78 626.55L213.08 623.15Z" fill="#f09030" stroke="#000" stroke-width="1.0"/>
<path d="M238.14 619.35L241.84 622.75L238.14 626.15L234.44 622.75Z" fill="#f09030" stroke="#000" stroke-width="1.0"/>
<path d="M259.5 618.66L263.2 622.06L259.5 625.46L255.8 622.06Z" fill="#f09030" stroke="#000" stroke-width="1.0"/>
<path d="M280.86 609.77L284.56 613.17L280.86 616.57L277.16 613.17Z" fill="#f09030" stroke="#000" stroke-width="1.0"/>
<path d="M67.26 636.33V640.32" stroke="#9a9a9a" stroke-width="1.5" fill="none"/>
<path d="M63.31 640.32H71.21M63.31 636.33H71.21" stroke="#888" stroke-width="1.5" fill="none"/>
<path d="M88.62 634.23V638.22" stroke="#9a9a9a" stroke-width="1.5" fill="none"/>
<path d="M84.67 638.22H92.57M84.67 634.23H92.57" stroke="#888" stroke-width="1.5" fill="none"/>
<path d="M109.98 626.45V636.43" stroke="#9a9a9a" stroke-width="1.5" fill="none"/>
<path d="M106.03 636.43H113.93M106.03 626.45H113.93" stroke="#888" stroke-width="1.5" fill="none"/>
<path d="M131.34 623.95V637.92" stroke="#9a9a9a" stroke-width="1.5" fill="none"/>
<path d="M127.39 637.92H135.29M127.39 623.95H135.29" stroke="#888" stroke-width="1.5" fill="none"/>
<path d="M152.7 620.46V636.43" stroke="#9a9a9a" stroke-width="1.5" fill="none"/>
<path d="M148.75 636.43H156.65M148.75 620.46H156.65" stroke="#888" stroke-width="1.5" fill="none"/>
<path d="M174.06 616.97V634.93" stroke="#9a9a9a" stroke-width="1.5" fill="none"/>
<path d="M170.11 634.93H178.01M170.11 616.97H178.01" stroke="#888" stroke-width="1.5" fill="none"/>
<path d="M195.42 614.97V630.94" stroke="#9a9a9a" stroke-width="1.5" fill="none"/>
<path d="M191.47 630.94H199.37M191.47 614.97H199.37" stroke="#888" stroke-width="1.5" fill="none"/>
<path d="M216.78 607.98V627.94" stroke="#9a9a9a" stroke-width="1.5" fill="none"/>
<path d="M212.83 627.94H220.73M212.83 607.98H220.73" stroke="#888" stroke-width="1.5" fill="none"/>
<path d="M238.14 602.1V626.05" stroke="#9a9a9a" stroke-width="1.5" fill="none"/>
<path d="M234.19 626.05H242.09M234.19 602.1H242.09" stroke="#888" stroke-width="1.5" fill="none"/>
<path d="M259.5 601.7V621.66" stroke="#9a9a9a" stroke-width="1.5" fill="none"/>
<path d="M255.55 621.66H263.45M255.55 601.7H263.45" stroke="#888" stroke-width="1.5" fill="none"/>
<path d="M280.86 588.12V618.06" stroke="#9a9a9a" stroke-width="1.5" fill="none"/>
<path d="M276.91 618.06H284.81M276.91 588.12H284.81" stroke="#888" stroke-width="1.5" fill="none"/>
<polyline points="45.9,648.8 67.26,638.32 88.62,636.23 109.98,631.44 131.34,630.94 152.7,628.44 174.06,625.95 195.42,622.95 216.78,617.96 238.14,614.07 259.5,611.68 280.86,603.09" fill="none" stroke="#000" stroke-width="1.3" stroke-linejoin="round"/>
<path d="M45.9 651.9L49.7 645.7L42.1 645.7Z" fill="#f0ea7a" stroke="#000" stroke-width="1.0" stroke-linejoin="miter"/>
<path d="M67.26 641.42L71.06 635.22L63.46 635.22Z" fill="#f0ea7a" stroke="#000" stroke-width="1.0" stroke-linejoin="miter"/>
<path d="M88.62 639.33L92.42 633.13L84.82 633.13Z" fill="#f0ea7a" stroke="#000" stroke-width="1.0" stroke-linejoin="miter"/>
<path d="M109.98 634.54L113.78 628.34L106.18 628.34Z" fill="#f0ea7a" stroke="#000" stroke-width="1.0" stroke-linejoin="miter"/>
<path d="M131.34 634.04L135.14 627.84L127.54 627.84Z" fill="#f0ea7a" stroke="#000" stroke-width="1.0" stroke-linejoin="miter"/>
<path d="M152.7 631.54L156.5 625.34L148.9 625.34Z" fill="#f0ea7a" stroke="#000" stroke-width="1.0" stroke-linejoin="miter"/>
<path d="M174.06 629.05L177.86 622.85L170.26 622.85Z" fill="#f0ea7a" stroke="#000" stroke-width="1.0" stroke-linejoin="miter"/>
<path d="M195.42 626.05L199.22 619.85L191.62 619.85Z" fill="#f0ea7a" stroke="#000" stroke-width="1.0" stroke-linejoin="miter"/>
<path d="M216.78 621.06L220.58 614.86L212.98 614.86Z" fill="#f0ea7a" stroke="#000" stroke-width="1.0" stroke-linejoin="miter"/>
<path d="M238.14 617.17L241.94 610.97L234.34 610.97Z" fill="#f0ea7a" stroke="#000" stroke-width="1.0" stroke-linejoin="miter"/>
<path d="M259.5 614.78L263.3 608.58L255.7 608.58Z" fill="#f0ea7a" stroke="#000" stroke-width="1.0" stroke-linejoin="miter"/>
<path d="M280.86 606.19L284.66 599.99L277.06 599.99Z" fill="#f0ea7a" stroke="#000" stroke-width="1.0" stroke-linejoin="miter"/>
<path d="M67.26 636.33V640.32" stroke="#9a9a9a" stroke-width="1.5" fill="none"/>
<path d="M63.31 640.32H71.21M63.31 636.33H71.21" stroke="#888" stroke-width="1.5" fill="none"/>
<path d="M88.62 634.23V638.22" stroke="#9a9a9a" stroke-width="1.5" fill="none"/>
<path d="M84.67 638.22H92.57M84.67 634.23H92.57" stroke="#888" stroke-width="1.5" fill="none"/>
<path d="M109.98 627.94V635.93" stroke="#9a9a9a" stroke-width="1.5" fill="none"/>
<path d="M106.03 635.93H113.93M106.03 627.94H113.93" stroke="#888" stroke-width="1.5" fill="none"/>
<path d="M131.34 625.45V637.42" stroke="#9a9a9a" stroke-width="1.5" fill="none"/>
<path d="M127.39 637.42H135.29M127.39 625.45H135.29" stroke="#888" stroke-width="1.5" fill="none"/>
<path d="M152.7 623.65V638.62" stroke="#9a9a9a" stroke-width="1.5" fill="none"/>
<path d="M148.75 638.62H156.65M148.75 623.65H156.65" stroke="#888" stroke-width="1.5" fill="none"/>
<path d="M174.06 622.45V638.42" stroke="#9a9a9a" stroke-width="1.5" fill="none"/>
<path d="M170.11 638.42H178.01M170.11 622.45H178.01" stroke="#888" stroke-width="1.5" fill="none"/>
<path d="M195.42 623.65V637.62" stroke="#9a9a9a" stroke-width="1.5" fill="none"/>
<path d="M191.47 637.62H199.37M191.47 623.65H199.37" stroke="#888" stroke-width="1.5" fill="none"/>
<path d="M216.78 622.36V636.33" stroke="#9a9a9a" stroke-width="1.5" fill="none"/>
<path d="M212.83 636.33H220.73M212.83 622.36H220.73" stroke="#888" stroke-width="1.5" fill="none"/>
<path d="M238.14 619.26V637.23" stroke="#9a9a9a" stroke-width="1.5" fill="none"/>
<path d="M234.19 637.23H242.09M234.19 619.26H242.09" stroke="#888" stroke-width="1.5" fill="none"/>
<path d="M259.5 617.86V637.82" stroke="#9a9a9a" stroke-width="1.5" fill="none"/>
<path d="M255.55 637.82H263.45M255.55 617.86H263.45" stroke="#888" stroke-width="1.5" fill="none"/>
<path d="M280.86 607.09V637.03" stroke="#9a9a9a" stroke-width="1.5" fill="none"/>
<path d="M276.91 637.03H284.81M276.91 607.09H284.81" stroke="#888" stroke-width="1.5" fill="none"/>
<polyline points="45.9,648.8 67.26,638.32 88.62,636.23 109.98,631.94 131.34,631.44 152.7,631.14 174.06,630.44 195.42,630.64 216.78,629.34 238.14,628.24 259.5,627.84 280.86,622.06" fill="none" stroke="#000" stroke-width="1.3" stroke-linejoin="round"/>
<path d="M45.9 645.6L49.7 652L42.1 652Z" fill="#ee3535" stroke="#000" stroke-width="1.0" stroke-linejoin="miter"/>
<path d="M67.26 635.12L71.06 641.52L63.46 641.52Z" fill="#ee3535" stroke="#000" stroke-width="1.0" stroke-linejoin="miter"/>
<path d="M88.62 633.03L92.42 639.43L84.82 639.43Z" fill="#ee3535" stroke="#000" stroke-width="1.0" stroke-linejoin="miter"/>
<path d="M109.98 628.74L113.78 635.14L106.18 635.14Z" fill="#ee3535" stroke="#000" stroke-width="1.0" stroke-linejoin="miter"/>
<path d="M131.34 628.24L135.14 634.64L127.54 634.64Z" fill="#ee3535" stroke="#000" stroke-width="1.0" stroke-linejoin="miter"/>
<path d="M152.7 627.94L156.5 634.34L148.9 634.34Z" fill="#ee3535" stroke="#000" stroke-width="1.0" stroke-linejoin="miter"/>
<path d="M174.06 627.24L177.86 633.64L170.26 633.64Z" fill="#ee3535" stroke="#000" stroke-width="1.0" stroke-linejoin="miter"/>
<path d="M195.42 627.44L199.22 633.84L191.62 633.84Z" fill="#ee3535" stroke="#000" stroke-width="1.0" stroke-linejoin="miter"/>
<path d="M216.78 626.14L220.58 632.54L212.98 632.54Z" fill="#ee3535" stroke="#000" stroke-width="1.0" stroke-linejoin="miter"/>
<path d="M238.14 625.04L241.94 631.44L234.34 631.44Z" fill="#ee3535" stroke="#000" stroke-width="1.0" stroke-linejoin="miter"/>
<path d="M259.5 624.64L263.3 631.04L255.7 631.04Z" fill="#ee3535" stroke="#000" stroke-width="1.0" stroke-linejoin="miter"/>
<path d="M280.86 618.86L284.66 625.26L277.06 625.26Z" fill="#ee3535" stroke="#000" stroke-width="1.0" stroke-linejoin="miter"/>
<path d="M67.26 636.33V640.32" stroke="#9a9a9a" stroke-width="1.5" fill="none"/>
<path d="M63.31 640.32H71.21M63.31 636.33H71.21" stroke="#888" stroke-width="1.5" fill="none"/>
<path d="M88.62 634.23V638.22" stroke="#9a9a9a" stroke-width="1.5" fill="none"/>
<path d="M84.67 638.22H92.57M84.67 634.23H92.57" stroke="#888" stroke-width="1.5" fill="none"/>
<path d="M109.98 626.15V636.13" stroke="#9a9a9a" stroke-width="1.5" fill="none"/>
<path d="M106.03 636.13H113.93M106.03 626.15H113.93" stroke="#888" stroke-width="1.5" fill="none"/>
<path d="M131.34 622.16V638.12" stroke="#9a9a9a" stroke-width="1.5" fill="none"/>
<path d="M127.39 638.12H135.29M127.39 622.16H135.29" stroke="#888" stroke-width="1.5" fill="none"/>
<path d="M152.7 618.96V633.93" stroke="#9a9a9a" stroke-width="1.5" fill="none"/>
<path d="M148.75 633.93H156.65M148.75 618.96H156.65" stroke="#888" stroke-width="1.5" fill="none"/>
<path d="M174.06 612.77V632.73" stroke="#9a9a9a" stroke-width="1.5" fill="none"/>
<path d="M170.11 632.73H178.01M170.11 612.77H178.01" stroke="#888" stroke-width="1.5" fill="none"/>
<path d="M195.42 608.28V628.24" stroke="#9a9a9a" stroke-width="1.5" fill="none"/>
<path d="M191.47 628.24H199.37M191.47 608.28H199.37" stroke="#888" stroke-width="1.5" fill="none"/>
<path d="M216.78 602.2V624.15" stroke="#9a9a9a" stroke-width="1.5" fill="none"/>
<path d="M212.83 624.15H220.73M212.83 602.2H220.73" stroke="#888" stroke-width="1.5" fill="none"/>
<path d="M238.14 597.41V610.78" stroke="#9a9a9a" stroke-width="1.5" fill="none"/>
<path d="M234.19 610.78H242.09M234.19 597.41H242.09" stroke="#888" stroke-width="1.5" fill="none"/>
<path d="M259.5 588.92V607.88" stroke="#9a9a9a" stroke-width="1.5" fill="none"/>
<path d="M255.55 607.88H263.45M255.55 588.92H263.45" stroke="#888" stroke-width="1.5" fill="none"/>
<path d="M280.86 568.96V594.91" stroke="#9a9a9a" stroke-width="1.5" fill="none"/>
<path d="M276.91 594.91H284.81M276.91 568.96H284.81" stroke="#888" stroke-width="1.5" fill="none"/>
<polyline points="45.9,648.8 67.26,638.32 88.62,636.23 109.98,631.14 131.34,630.14 152.7,626.45 174.06,622.75 195.42,618.26 216.78,613.17 238.14,604.09 259.5,598.4 280.86,581.94" fill="none" stroke="#000" stroke-width="1.3" stroke-linejoin="round"/>
<circle cx="45.9" cy="648.8" r="3.3" fill="#93121f" stroke="#000" stroke-width="1.0"/>
<circle cx="67.26" cy="638.32" r="3.3" fill="#93121f" stroke="#000" stroke-width="1.0"/>
<circle cx="88.62" cy="636.23" r="3.3" fill="#93121f" stroke="#000" stroke-width="1.0"/>
<circle cx="109.98" cy="631.14" r="3.3" fill="#93121f" stroke="#000" stroke-width="1.0"/>
<circle cx="131.34" cy="630.14" r="3.3" fill="#93121f" stroke="#000" stroke-width="1.0"/>
<circle cx="152.7" cy="626.45" r="3.3" fill="#93121f" stroke="#000" stroke-width="1.0"/>
<circle cx="174.06" cy="622.75" r="3.3" fill="#93121f" stroke="#000" stroke-width="1.0"/>
<circle cx="195.42" cy="618.26" r="3.3" fill="#93121f" stroke="#000" stroke-width="1.0"/>
<circle cx="216.78" cy="613.17" r="3.3" fill="#93121f" stroke="#000" stroke-width="1.0"/>
<circle cx="238.14" cy="604.09" r="3.3" fill="#93121f" stroke="#000" stroke-width="1.0"/>
<circle cx="259.5" cy="598.4" r="3.3" fill="#93121f" stroke="#000" stroke-width="1.0"/>
<circle cx="280.86" cy="581.94" r="3.3" fill="#93121f" stroke="#000" stroke-width="1.0"/>
<text x="352.9" y="17" class="pl">d</text>
<text x="521.9" y="16.8" class="tt" text-anchor="middle">neutral pH • zinc replete</text>
<path d="M393.1 30.3V180H649.1" fill="none" stroke="#000" stroke-width="2" stroke-linecap="square"/>
<path d="M387.9 180H393.1" stroke="#000" stroke-width="2"/>
<text x="386.5" y="183.6" class="tk" text-anchor="end">0.0</text>
<path d="M387.9 130.1H393.1" stroke="#000" stroke-width="2"/>
<text x="386.5" y="133.7" class="tk" text-anchor="end">0.5</text>
<path d="M387.9 80.2H393.1" stroke="#000" stroke-width="2"/>
<text x="386.5" y="83.8" class="tk" text-anchor="end">1.0</text>
<path d="M387.9 30.3H393.1" stroke="#000" stroke-width="2"/>
<text x="386.5" y="33.9" class="tk" text-anchor="end">1.5</text>
<path d="M393.1 180V185.3" stroke="#000" stroke-width="2"/>
<text x="393.1" y="196.3" class="tk" text-anchor="middle">0</text>
<path d="M435.82 180V185.3" stroke="#000" stroke-width="2"/>
<text x="435.82" y="196.3" class="tk" text-anchor="middle">2</text>
<path d="M478.54 180V185.3" stroke="#000" stroke-width="2"/>
<text x="478.54" y="196.3" class="tk" text-anchor="middle">4</text>
<path d="M521.26 180V185.3" stroke="#000" stroke-width="2"/>
<text x="521.26" y="196.3" class="tk" text-anchor="middle">6</text>
<path d="M563.98 180V185.3" stroke="#000" stroke-width="2"/>
<text x="563.98" y="196.3" class="tk" text-anchor="middle">8</text>
<path d="M606.7 180V185.3" stroke="#000" stroke-width="2"/>
<text x="606.7" y="196.3" class="tk" text-anchor="middle">10</text>
<path d="M649.42 180V185.3" stroke="#000" stroke-width="2"/>
<text x="649.42" y="196.3" class="tk" text-anchor="middle">12</text>
<text x="521.1" y="211.3" class="tk" text-anchor="middle">Days</text>
<text transform="translate(361 116.15) rotate(-90)" class="tk">OD<tspan class="sub" dy="1.9">600</tspan></text>
<path d="M414.46 131.6V166.53" stroke="#9a9a9a" stroke-width="1.5" fill="none"/>
<path d="M410.51 166.53H418.41M410.51 131.6H418.41" stroke="#888" stroke-width="1.5" fill="none"/>
<path d="M435.82 72.71V127.6" stroke="#9a9a9a" stroke-width="1.5" fill="none"/>
<path d="M431.87 127.6H439.77M431.87 72.71H439.77" stroke="#888" stroke-width="1.5" fill="none"/>
<path d="M457.18 59.24V99.16" stroke="#9a9a9a" stroke-width="1.5" fill="none"/>
<path d="M453.23 99.16H461.13M453.23 59.24H461.13" stroke="#888" stroke-width="1.5" fill="none"/>
<path d="M478.54 57.74V83.69" stroke="#9a9a9a" stroke-width="1.5" fill="none"/>
<path d="M474.59 83.69H482.49M474.59 57.74H482.49" stroke="#888" stroke-width="1.5" fill="none"/>
<path d="M499.9 49.26V79.2" stroke="#9a9a9a" stroke-width="1.5" fill="none"/>
<path d="M495.95 79.2H503.85M495.95 49.26H503.85" stroke="#888" stroke-width="1.5" fill="none"/>
<path d="M521.26 47.27V73.21" stroke="#9a9a9a" stroke-width="1.5" fill="none"/>
<path d="M517.31 73.21H525.21M517.31 47.27H525.21" stroke="#888" stroke-width="1.5" fill="none"/>
<path d="M542.62 48.26V66.23" stroke="#9a9a9a" stroke-width="1.5" fill="none"/>
<path d="M538.67 66.23H546.57M538.67 48.26H546.57" stroke="#888" stroke-width="1.5" fill="none"/>
<path d="M563.98 50.76V62.73" stroke="#9a9a9a" stroke-width="1.5" fill="none"/>
<path d="M560.03 62.73H567.93M560.03 50.76H567.93" stroke="#888" stroke-width="1.5" fill="none"/>
<path d="M585.34 48.26V64.23" stroke="#9a9a9a" stroke-width="1.5" fill="none"/>
<path d="M581.39 64.23H589.29M581.39 48.26H589.29" stroke="#888" stroke-width="1.5" fill="none"/>
<path d="M606.7 47.27V61.24" stroke="#9a9a9a" stroke-width="1.5" fill="none"/>
<path d="M602.75 61.24H610.65M602.75 47.27H610.65" stroke="#888" stroke-width="1.5" fill="none"/>
<path d="M628.06 38.78V58.74" stroke="#9a9a9a" stroke-width="1.5" fill="none"/>
<path d="M624.11 58.74H632.01M624.11 38.78H632.01" stroke="#888" stroke-width="1.5" fill="none"/>
<polyline points="393.1,178.9 414.46,149.06 435.82,100.16 457.18,79.2 478.54,70.72 499.9,64.23 521.26,60.24 542.62,57.25 563.98,56.75 585.34,56.25 606.7,54.25 628.06,48.76" fill="none" stroke="#000" stroke-width="1.3" stroke-linejoin="round"/>
<path d="M393.1 175.5L396.8 178.9L393.1 182.3L389.4 178.9Z" fill="#f09030" stroke="#000" stroke-width="1.0"/>
<path d="M414.46 145.66L418.16 149.06L414.46 152.46L410.76 149.06Z" fill="#f09030" stroke="#000" stroke-width="1.0"/>
<path d="M435.82 96.76L439.52 100.16L435.82 103.56L432.12 100.16Z" fill="#f09030" stroke="#000" stroke-width="1.0"/>
<path d="M457.18 75.8L460.88 79.2L457.18 82.6L453.48 79.2Z" fill="#f09030" stroke="#000" stroke-width="1.0"/>
<path d="M478.54 67.32L482.24 70.72L478.54 74.12L474.84 70.72Z" fill="#f09030" stroke="#000" stroke-width="1.0"/>
<path d="M499.9 60.83L503.6 64.23L499.9 67.63L496.2 64.23Z" fill="#f09030" stroke="#000" stroke-width="1.0"/>
<path d="M521.26 56.84L524.96 60.24L521.26 63.64L517.56 60.24Z" fill="#f09030" stroke="#000" stroke-width="1.0"/>
<path d="M542.62 53.85L546.32 57.25L542.62 60.65L538.92 57.25Z" fill="#f09030" stroke="#000" stroke-width="1.0"/>
<path d="M563.98 53.35L567.68 56.75L563.98 60.15L560.28 56.75Z" fill="#f09030" stroke="#000" stroke-width="1.0"/>
<path d="M585.34 52.85L589.04 56.25L585.34 59.65L581.64 56.25Z" fill="#f09030" stroke="#000" stroke-width="1.0"/>
<path d="M606.7 50.85L610.4 54.25L606.7 57.65L603 54.25Z" fill="#f09030" stroke="#000" stroke-width="1.0"/>
<path d="M628.06 45.36L631.76 48.76L628.06 52.16L624.36 48.76Z" fill="#f09030" stroke="#000" stroke-width="1.0"/>
<path d="M414.46 132.59V167.53" stroke="#9a9a9a" stroke-width="1.5" fill="none"/>
<path d="M410.51 167.53H418.41M410.51 132.59H418.41" stroke="#888" stroke-width="1.5" fill="none"/>
<path d="M435.82 73.71V128.6" stroke="#9a9a9a" stroke-width="1.5" fill="none"/>
<path d="M431.87 128.6H439.77M431.87 73.71H439.77" stroke="#888" stroke-width="1.5" fill="none"/>
<path d="M457.18 60.24V100.16" stroke="#9a9a9a" stroke-width="1.5" fill="none"/>
<path d="M453.23 100.16H461.13M453.23 60.24H461.13" stroke="#888" stroke-width="1.5" fill="none"/>
<path d="M478.54 58.24V84.19" stroke="#9a9a9a" stroke-width="1.5" fill="none"/>
<path d="M474.59 84.19H482.49M474.59 58.24H482.49" stroke="#888" stroke-width="1.5" fill="none"/>
<path d="M499.9 49.26V79.2" stroke="#9a9a9a" stroke-width="1.5" fill="none"/>
<path d="M495.95 79.2H503.85M495.95 49.26H503.85" stroke="#888" stroke-width="1.5" fill="none"/>
<path d="M521.26 47.76V73.71" stroke="#9a9a9a" stroke-width="1.5" fill="none"/>
<path d="M517.31 73.71H525.21M517.31 47.76H525.21" stroke="#888" stroke-width="1.5" fill="none"/>
<path d="M542.62 48.76V66.73" stroke="#9a9a9a" stroke-width="1.5" fill="none"/>
<path d="M538.67 66.73H546.57M538.67 48.76H546.57" stroke="#888" stroke-width="1.5" fill="none"/>
<path d="M563.98 50.76V62.73" stroke="#9a9a9a" stroke-width="1.5" fill="none"/>
<path d="M560.03 62.73H567.93M560.03 50.76H567.93" stroke="#888" stroke-width="1.5" fill="none"/>
<path d="M585.34 48.26V64.23" stroke="#9a9a9a" stroke-width="1.5" fill="none"/>
<path d="M581.39 64.23H589.29M581.39 48.26H589.29" stroke="#888" stroke-width="1.5" fill="none"/>
<path d="M606.7 47.27V61.24" stroke="#9a9a9a" stroke-width="1.5" fill="none"/>
<path d="M602.75 61.24H610.65M602.75 47.27H610.65" stroke="#888" stroke-width="1.5" fill="none"/>
<path d="M628.06 39.28V59.24" stroke="#9a9a9a" stroke-width="1.5" fill="none"/>
<path d="M624.11 59.24H632.01M624.11 39.28H632.01" stroke="#888" stroke-width="1.5" fill="none"/>
<polyline points="393.1,178.9 414.46,150.06 435.82,101.16 457.18,80.2 478.54,71.22 499.9,64.23 521.26,60.74 542.62,57.74 563.98,56.75 585.34,56.25 606.7,54.25 628.06,49.26" fill="none" stroke="#000" stroke-width="1.3" stroke-linejoin="round"/>
<path d="M393.1 182L396.9 175.8L389.3 175.8Z" fill="#f0ea7a" stroke="#000" stroke-width="1.0" stroke-linejoin="miter"/>
<path d="M414.46 153.16L418.26 146.96L410.66 146.96Z" fill="#f0ea7a" stroke="#000" stroke-width="1.0" stroke-linejoin="miter"/>
<path d="M435.82 104.26L439.62 98.06L432.02 98.06Z" fill="#f0ea7a" stroke="#000" stroke-width="1.0" stroke-linejoin="miter"/>
<path d="M457.18 83.3L460.98 77.1L453.38 77.1Z" fill="#f0ea7a" stroke="#000" stroke-width="1.0" stroke-linejoin="miter"/>
<path d="M478.54 74.32L482.34 68.12L474.74 68.12Z" fill="#f0ea7a" stroke="#000" stroke-width="1.0" stroke-linejoin="miter"/>
<path d="M499.9 67.33L503.7 61.13L496.1 61.13Z" fill="#f0ea7a" stroke="#000" stroke-width="1.0" stroke-linejoin="miter"/>
<path d="M521.26 63.84L525.06 57.64L517.46 57.64Z" fill="#f0ea7a" stroke="#000" stroke-width="1.0" stroke-linejoin="miter"/>
<path d="M542.62 60.84L546.42 54.64L538.82 54.64Z" fill="#f0ea7a" stroke="#000" stroke-width="1.0" stroke-linejoin="miter"/>
<path d="M563.98 59.85L567.78 53.65L560.18 53.65Z" fill="#f0ea7a" stroke="#000" stroke-width="1.0" stroke-linejoin="miter"/>
<path d="M585.34 59.35L589.14 53.15L581.54 53.15Z" fill="#f0ea7a" stroke="#000" stroke-width="1.0" stroke-linejoin="miter"/>
<path d="M606.7 57.35L610.5 51.15L602.9 51.15Z" fill="#f0ea7a" stroke="#000" stroke-width="1.0" stroke-linejoin="miter"/>
<path d="M628.06 52.36L631.86 46.16L624.26 46.16Z" fill="#f0ea7a" stroke="#000" stroke-width="1.0" stroke-linejoin="miter"/>
<path d="M414.46 137.09V167.03" stroke="#9a9a9a" stroke-width="1.5" fill="none"/>
<path d="M410.51 167.03H418.41M410.51 137.09H418.41" stroke="#888" stroke-width="1.5" fill="none"/>
<path d="M435.82 80.2V134.09" stroke="#9a9a9a" stroke-width="1.5" fill="none"/>
<path d="M431.87 134.09H439.77M431.87 80.2H439.77" stroke="#888" stroke-width="1.5" fill="none"/>
<path d="M457.18 57.25V105.15" stroke="#9a9a9a" stroke-width="1.5" fill="none"/>
<path d="M453.23 105.15H461.13M453.23 57.25H461.13" stroke="#888" stroke-width="1.5" fill="none"/>
<path d="M478.54 55.25V89.18" stroke="#9a9a9a" stroke-width="1.5" fill="none"/>
<path d="M474.59 89.18H482.49M474.59 55.25H482.49" stroke="#888" stroke-width="1.5" fill="none"/>
<path d="M499.9 48.76V81.7" stroke="#9a9a9a" stroke-width="1.5" fill="none"/>
<path d="M495.95 81.7H503.85M495.95 48.76H503.85" stroke="#888" stroke-width="1.5" fill="none"/>
<path d="M521.26 46.77V75.71" stroke="#9a9a9a" stroke-width="1.5" fill="none"/>
<path d="M517.31 75.71H525.21M517.31 46.77H525.21" stroke="#888" stroke-width="1.5" fill="none"/>
<path d="M542.62 49.26V67.23" stroke="#9a9a9a" stroke-width="1.5" fill="none"/>
<path d="M538.67 67.23H546.57M538.67 49.26H546.57" stroke="#888" stroke-width="1.5" fill="none"/>
<path d="M563.98 51.26V63.23" stroke="#9a9a9a" stroke-width="1.5" fill="none"/>
<path d="M560.03 63.23H567.93M560.03 51.26H567.93" stroke="#888" stroke-width="1.5" fill="none"/>
<path d="M585.34 48.76V64.73" stroke="#9a9a9a" stroke-width="1.5" fill="none"/>
<path d="M581.39 64.73H589.29M581.39 48.76H589.29" stroke="#888" stroke-width="1.5" fill="none"/>
<path d="M606.7 48.26V62.24" stroke="#9a9a9a" stroke-width="1.5" fill="none"/>
<path d="M602.75 62.24H610.65M602.75 48.26H610.65" stroke="#888" stroke-width="1.5" fill="none"/>
<path d="M628.06 40.28V60.24" stroke="#9a9a9a" stroke-width="1.5" fill="none"/>
<path d="M624.11 60.24H632.01M624.11 40.28H632.01" stroke="#888" stroke-width="1.5" fill="none"/>
<polyline points="393.1,178.9 414.46,152.06 435.82,107.15 457.18,81.2 478.54,72.22 499.9,65.23 521.26,61.24 542.62,58.24 563.98,57.25 585.34,56.75 606.7,55.25 628.06,50.26" fill="none" stroke="#000" stroke-width="1.3" stroke-linejoin="round"/>
<path d="M393.1 175.7L396.9 182.1L389.3 182.1Z" fill="#ee3535" stroke="#000" stroke-width="1.0" stroke-linejoin="miter"/>
<path d="M414.46 148.86L418.26 155.26L410.66 155.26Z" fill="#ee3535" stroke="#000" stroke-width="1.0" stroke-linejoin="miter"/>
<path d="M435.82 103.95L439.62 110.35L432.02 110.35Z" fill="#ee3535" stroke="#000" stroke-width="1.0" stroke-linejoin="miter"/>
<path d="M457.18 78L460.98 84.4L453.38 84.4Z" fill="#ee3535" stroke="#000" stroke-width="1.0" stroke-linejoin="miter"/>
<path d="M478.54 69.02L482.34 75.42L474.74 75.42Z" fill="#ee3535" stroke="#000" stroke-width="1.0" stroke-linejoin="miter"/>
<path d="M499.9 62.03L503.7 68.43L496.1 68.43Z" fill="#ee3535" stroke="#000" stroke-width="1.0" stroke-linejoin="miter"/>
<path d="M521.26 58.04L525.06 64.44L517.46 64.44Z" fill="#ee3535" stroke="#000" stroke-width="1.0" stroke-linejoin="miter"/>
<path d="M542.62 55.04L546.42 61.44L538.82 61.44Z" fill="#ee3535" stroke="#000" stroke-width="1.0" stroke-linejoin="miter"/>
<path d="M563.98 54.05L567.78 60.45L560.18 60.45Z" fill="#ee3535" stroke="#000" stroke-width="1.0" stroke-linejoin="miter"/>
<path d="M585.34 53.55L589.14 59.95L581.54 59.95Z" fill="#ee3535" stroke="#000" stroke-width="1.0" stroke-linejoin="miter"/>
<path d="M606.7 52.05L610.5 58.45L602.9 58.45Z" fill="#ee3535" stroke="#000" stroke-width="1.0" stroke-linejoin="miter"/>
<path d="M628.06 47.06L631.86 53.46L624.26 53.46Z" fill="#ee3535" stroke="#000" stroke-width="1.0" stroke-linejoin="miter"/>
<path d="M414.46 138.48V168.42" stroke="#9a9a9a" stroke-width="1.5" fill="none"/>
<path d="M410.51 168.42H418.41M410.51 138.48H418.41" stroke="#888" stroke-width="1.5" fill="none"/>
<path d="M435.82 81.6V135.49" stroke="#9a9a9a" stroke-width="1.5" fill="none"/>
<path d="M431.87 135.49H439.77M431.87 81.6H439.77" stroke="#888" stroke-width="1.5" fill="none"/>
<path d="M457.18 57.94V105.85" stroke="#9a9a9a" stroke-width="1.5" fill="none"/>
<path d="M453.23 105.85H461.13M453.23 57.94H461.13" stroke="#888" stroke-width="1.5" fill="none"/>
<path d="M478.54 56.75V90.68" stroke="#9a9a9a" stroke-width="1.5" fill="none"/>
<path d="M474.59 90.68H482.49M474.59 56.75H482.49" stroke="#888" stroke-width="1.5" fill="none"/>
<path d="M499.9 49.76V82.7" stroke="#9a9a9a" stroke-width="1.5" fill="none"/>
<path d="M495.95 82.7H503.85M495.95 49.76H503.85" stroke="#888" stroke-width="1.5" fill="none"/>
<path d="M521.26 48.06V77.01" stroke="#9a9a9a" stroke-width="1.5" fill="none"/>
<path d="M517.31 77.01H525.21M517.31 48.06H525.21" stroke="#888" stroke-width="1.5" fill="none"/>
<path d="M542.62 48.46V68.42" stroke="#9a9a9a" stroke-width="1.5" fill="none"/>
<path d="M538.67 68.42H546.57M538.67 48.46H546.57" stroke="#888" stroke-width="1.5" fill="none"/>
<path d="M563.98 51.46V63.43" stroke="#9a9a9a" stroke-width="1.5" fill="none"/>
<path d="M560.03 63.43H567.93M560.03 51.46H567.93" stroke="#888" stroke-width="1.5" fill="none"/>
<path d="M585.34 49.06V65.03" stroke="#9a9a9a" stroke-width="1.5" fill="none"/>
<path d="M581.39 65.03H589.29M581.39 49.06H589.29" stroke="#888" stroke-width="1.5" fill="none"/>
<path d="M606.7 47.67V61.64" stroke="#9a9a9a" stroke-width="1.5" fill="none"/>
<path d="M602.75 61.64H610.65M602.75 47.67H610.65" stroke="#888" stroke-width="1.5" fill="none"/>
<path d="M628.06 39.28V59.24" stroke="#9a9a9a" stroke-width="1.5" fill="none"/>
<path d="M624.11 59.24H632.01M624.11 39.28H632.01" stroke="#888" stroke-width="1.5" fill="none"/>
<polyline points="393.1,178.9 414.46,153.45 435.82,108.54 457.18,81.9 478.54,73.71 499.9,66.23 521.26,62.54 542.62,58.44 563.98,57.45 585.34,57.05 606.7,54.65 628.06,49.26" fill="none" stroke="#000" stroke-width="1.3" stroke-linejoin="round"/>
<circle cx="393.1" cy="178.9" r="3.3" fill="#93121f" stroke="#000" stroke-width="1.0"/>
<circle cx="414.46" cy="153.45" r="3.3" fill="#93121f" stroke="#000" stroke-width="1.0"/>
<circle cx="435.82" cy="108.54" r="3.3" fill="#93121f" stroke="#000" stroke-width="1.0"/>
<circle cx="457.18" cy="81.9" r="3.3" fill="#93121f" stroke="#000" stroke-width="1.0"/>
<circle cx="478.54" cy="73.71" r="3.3" fill="#93121f" stroke="#000" stroke-width="1.0"/>
<circle cx="499.9" cy="66.23" r="3.3" fill="#93121f" stroke="#000" stroke-width="1.0"/>
<circle cx="521.26" cy="62.54" r="3.3" fill="#93121f" stroke="#000" stroke-width="1.0"/>
<circle cx="542.62" cy="58.44" r="3.3" fill="#93121f" stroke="#000" stroke-width="1.0"/>
<circle cx="563.98" cy="57.45" r="3.3" fill="#93121f" stroke="#000" stroke-width="1.0"/>
<circle cx="585.34" cy="57.05" r="3.3" fill="#93121f" stroke="#000" stroke-width="1.0"/>
<circle cx="606.7" cy="54.65" r="3.3" fill="#93121f" stroke="#000" stroke-width="1.0"/>
<circle cx="628.06" cy="49.26" r="3.3" fill="#93121f" stroke="#000" stroke-width="1.0"/>
<text x="352.9" y="251.8" class="pl">e</text>
<text x="521.9" y="252" class="tt" text-anchor="middle">neutral pH • mild zinc depleted</text>
<path d="M393.1 268.2V417.9H649.1" fill="none" stroke="#000" stroke-width="2" stroke-linecap="square"/>
<path d="M387.9 417.9H393.1" stroke="#000" stroke-width="2"/>
<text x="386.5" y="421.5" class="tk" text-anchor="end">0.0</text>
<path d="M387.9 368H393.1" stroke="#000" stroke-width="2"/>
<text x="386.5" y="371.6" class="tk" text-anchor="end">0.5</text>
<path d="M387.9 318.1H393.1" stroke="#000" stroke-width="2"/>
<text x="386.5" y="321.7" class="tk" text-anchor="end">1.0</text>
<path d="M387.9 268.2H393.1" stroke="#000" stroke-width="2"/>
<text x="386.5" y="271.8" class="tk" text-anchor="end">1.5</text>
<path d="M393.1 417.9V423.2" stroke="#000" stroke-width="2"/>
<text x="393.1" y="434.2" class="tk" text-anchor="middle">0</text>
<path d="M435.82 417.9V423.2" stroke="#000" stroke-width="2"/>
<text x="435.82" y="434.2" class="tk" text-anchor="middle">2</text>
<path d="M478.54 417.9V423.2" stroke="#000" stroke-width="2"/>
<text x="478.54" y="434.2" class="tk" text-anchor="middle">4</text>
<path d="M521.26 417.9V423.2" stroke="#000" stroke-width="2"/>
<text x="521.26" y="434.2" class="tk" text-anchor="middle">6</text>
<path d="M563.98 417.9V423.2" stroke="#000" stroke-width="2"/>
<text x="563.98" y="434.2" class="tk" text-anchor="middle">8</text>
<path d="M606.7 417.9V423.2" stroke="#000" stroke-width="2"/>
<text x="606.7" y="434.2" class="tk" text-anchor="middle">10</text>
<path d="M649.42 417.9V423.2" stroke="#000" stroke-width="2"/>
<text x="649.42" y="434.2" class="tk" text-anchor="middle">12</text>
<text x="521.1" y="449.2" class="tk" text-anchor="middle">Days</text>
<text transform="translate(361 354.05) rotate(-90)" class="tk">OD<tspan class="sub" dy="1.9">600</tspan></text>
<path d="M414.46 402.13V406.12" stroke="#9a9a9a" stroke-width="1.5" fill="none"/>
<path d="M410.51 406.12H418.41M410.51 402.13H418.41" stroke="#888" stroke-width="1.5" fill="none"/>
<path d="M435.82 391.95V403.93" stroke="#9a9a9a" stroke-width="1.5" fill="none"/>
<path d="M431.87 403.93H439.77M431.87 391.95H439.77" stroke="#888" stroke-width="1.5" fill="none"/>
<path d="M457.18 386.36V394.35" stroke="#9a9a9a" stroke-width="1.5" fill="none"/>
<path d="M453.23 394.35H461.13M453.23 386.36H461.13" stroke="#888" stroke-width="1.5" fill="none"/>
<path d="M478.54 376.28V396.24" stroke="#9a9a9a" stroke-width="1.5" fill="none"/>
<path d="M474.59 396.24H482.49M474.59 376.28H482.49" stroke="#888" stroke-width="1.5" fill="none"/>
<path d="M499.9 361.21V401.13" stroke="#9a9a9a" stroke-width="1.5" fill="none"/>
<path d="M495.95 401.13H503.85M495.95 361.21H503.85" stroke="#888" stroke-width="1.5" fill="none"/>
<path d="M521.26 354.43V394.35" stroke="#9a9a9a" stroke-width="1.5" fill="none"/>
<path d="M517.31 394.35H525.21M517.31 354.43H525.21" stroke="#888" stroke-width="1.5" fill="none"/>
<path d="M542.62 357.52V385.46" stroke="#9a9a9a" stroke-width="1.5" fill="none"/>
<path d="M538.67 385.46H546.57M538.67 357.52H546.57" stroke="#888" stroke-width="1.5" fill="none"/>
<path d="M563.98 352.83V378.78" stroke="#9a9a9a" stroke-width="1.5" fill="none"/>
<path d="M560.03 378.78H567.93M560.03 352.83H567.93" stroke="#888" stroke-width="1.5" fill="none"/>
<path d="M585.34 331.47V379.38" stroke="#9a9a9a" stroke-width="1.5" fill="none"/>
<path d="M581.39 379.38H589.29M581.39 331.47H589.29" stroke="#888" stroke-width="1.5" fill="none"/>
<path d="M606.7 313.11V372.99" stroke="#9a9a9a" stroke-width="1.5" fill="none"/>
<path d="M602.75 372.99H610.65M602.75 313.11H610.65" stroke="#888" stroke-width="1.5" fill="none"/>
<path d="M628.06 295.35V367.2" stroke="#9a9a9a" stroke-width="1.5" fill="none"/>
<path d="M624.11 367.2H632.01M624.11 295.35H632.01" stroke="#888" stroke-width="1.5" fill="none"/>
<polyline points="393.1,416.8 414.46,404.13 435.82,397.94 457.18,390.36 478.54,386.26 499.9,381.17 521.26,374.39 542.62,371.49 563.98,365.8 585.34,355.43 606.7,343.05 628.06,331.27" fill="none" stroke="#000" stroke-width="1.3" stroke-linejoin="round"/>
<path d="M393.1 413.4L396.8 416.8L393.1 420.2L389.4 416.8Z" fill="#f09030" stroke="#000" stroke-width="1.0"/>
<path d="M414.46 400.73L418.16 404.13L414.46 407.53L410.76 404.13Z" fill="#f09030" stroke="#000" stroke-width="1.0"/>
<path d="M435.82 394.54L439.52 397.94L435.82 401.34L432.12 397.94Z" fill="#f09030" stroke="#000" stroke-width="1.0"/>
<path d="M457.18 386.96L460.88 390.36L457.18 393.76L453.48 390.36Z" fill="#f09030" stroke="#000" stroke-width="1.0"/>
<path d="M478.54 382.86L482.24 386.26L478.54 389.66L474.84 386.26Z" fill="#f09030" stroke="#000" stroke-width="1.0"/>
<path d="M499.9 377.77L503.6 381.17L499.9 384.57L496.2 381.17Z" fill="#f09030" stroke="#000" stroke-width="1.0"/>
<path d="M521.26 370.99L524.96 374.39L521.26 377.79L517.56 374.39Z" fill="#f09030" stroke="#000" stroke-width="1.0"/>
<path d="M542.62 368.09L546.32 371.49L542.62 374.89L538.92 371.49Z" fill="#f09030" stroke="#000" stroke-width="1.0"/>
<path d="M563.98 362.4L567.68 365.8L563.98 369.2L560.28 365.8Z" fill="#f09030" stroke="#000" stroke-width="1.0"/>
<path d="M585.34 352.03L589.04 355.43L585.34 358.83L581.64 355.43Z" fill="#f09030" stroke="#000" stroke-width="1.0"/>
<path d="M606.7 339.65L610.4 343.05L606.7 346.45L603 343.05Z" fill="#f09030" stroke="#000" stroke-width="1.0"/>
<path d="M628.06 327.87L631.76 331.27L628.06 334.67L624.36 331.27Z" fill="#f09030" stroke="#000" stroke-width="1.0"/>
<path d="M414.46 401.93V405.92" stroke="#9a9a9a" stroke-width="1.5" fill="none"/>
<path d="M410.51 405.92H418.41M410.51 401.93H418.41" stroke="#888" stroke-width="1.5" fill="none"/>
<path d="M435.82 386.96V400.93" stroke="#9a9a9a" stroke-width="1.5" fill="none"/>
<path d="M431.87 400.93H439.77M431.87 386.96H439.77" stroke="#888" stroke-width="1.5" fill="none"/>
<path d="M457.18 356.02V391.95" stroke="#9a9a9a" stroke-width="1.5" fill="none"/>
<path d="M453.23 391.95H461.13M453.23 356.02H461.13" stroke="#888" stroke-width="1.5" fill="none"/>
<path d="M478.54 317.4V367.3" stroke="#9a9a9a" stroke-width="1.5" fill="none"/>
<path d="M474.59 367.3H482.49M474.59 317.4H482.49" stroke="#888" stroke-width="1.5" fill="none"/>
<path d="M499.9 304.63V348.54" stroke="#9a9a9a" stroke-width="1.5" fill="none"/>
<path d="M495.95 348.54H503.85M495.95 304.63H503.85" stroke="#888" stroke-width="1.5" fill="none"/>
<path d="M521.26 295.15V335.07" stroke="#9a9a9a" stroke-width="1.5" fill="none"/>
<path d="M517.31 335.07H525.21M517.31 295.15H525.21" stroke="#888" stroke-width="1.5" fill="none"/>
<path d="M542.62 295.64V319.6" stroke="#9a9a9a" stroke-width="1.5" fill="none"/>
<path d="M538.67 319.6H546.57M538.67 295.64H546.57" stroke="#888" stroke-width="1.5" fill="none"/>
<path d="M563.98 298.14V314.11" stroke="#9a9a9a" stroke-width="1.5" fill="none"/>
<path d="M560.03 314.11H567.93M560.03 298.14H567.93" stroke="#888" stroke-width="1.5" fill="none"/>
<path d="M585.34 296.14V314.11" stroke="#9a9a9a" stroke-width="1.5" fill="none"/>
<path d="M581.39 314.11H589.29M581.39 296.14H589.29" stroke="#888" stroke-width="1.5" fill="none"/>
<path d="M606.7 296.14V312.11" stroke="#9a9a9a" stroke-width="1.5" fill="none"/>
<path d="M602.75 312.11H610.65M602.75 296.14H610.65" stroke="#888" stroke-width="1.5" fill="none"/>
<path d="M628.06 290.16V304.13" stroke="#9a9a9a" stroke-width="1.5" fill="none"/>
<path d="M624.11 304.13H632.01M624.11 290.16H632.01" stroke="#888" stroke-width="1.5" fill="none"/>
<polyline points="393.1,416.8 414.46,403.93 435.82,393.95 457.18,373.99 478.54,342.35 499.9,326.58 521.26,315.11 542.62,307.62 563.98,306.12 585.34,305.13 606.7,304.13 628.06,297.14" fill="none" stroke="#000" stroke-width="1.3" stroke-linejoin="round"/>
<path d="M393.1 419.9L396.9 413.7L389.3 413.7Z" fill="#f0ea7a" stroke="#000" stroke-width="1.0" stroke-linejoin="miter"/>
<path d="M414.46 407.03L418.26 400.83L410.66 400.83Z" fill="#f0ea7a" stroke="#000" stroke-width="1.0" stroke-linejoin="miter"/>
<path d="M435.82 397.05L439.62 390.85L432.02 390.85Z" fill="#f0ea7a" stroke="#000" stroke-width="1.0" stroke-linejoin="miter"/>
<path d="M457.18 377.09L460.98 370.89L453.38 370.89Z" fill="#f0ea7a" stroke="#000" stroke-width="1.0" stroke-linejoin="miter"/>
<path d="M478.54 345.45L482.34 339.25L474.74 339.25Z" fill="#f0ea7a" stroke="#000" stroke-width="1.0" stroke-linejoin="miter"/>
<path d="M499.9 329.68L503.7 323.48L496.1 323.48Z" fill="#f0ea7a" stroke="#000" stroke-width="1.0" stroke-linejoin="miter"/>
<path d="M521.26 318.21L525.06 312.01L517.46 312.01Z" fill="#f0ea7a" stroke="#000" stroke-width="1.0" stroke-linejoin="miter"/>
<path d="M542.62 310.72L546.42 304.52L538.82 304.52Z" fill="#f0ea7a" stroke="#000" stroke-width="1.0" stroke-linejoin="miter"/>
<path d="M563.98 309.22L567.78 303.02L560.18 303.02Z" fill="#f0ea7a" stroke="#000" stroke-width="1.0" stroke-linejoin="miter"/>
<path d="M585.34 308.23L589.14 302.03L581.54 302.03Z" fill="#f0ea7a" stroke="#000" stroke-width="1.0" stroke-linejoin="miter"/>
<path d="M606.7 307.23L610.5 301.03L602.9 301.03Z" fill="#f0ea7a" stroke="#000" stroke-width="1.0" stroke-linejoin="miter"/>
<path d="M628.06 300.24L631.86 294.04L624.26 294.04Z" fill="#f0ea7a" stroke="#000" stroke-width="1.0" stroke-linejoin="miter"/>
<path d="M414.46 402.43V406.42" stroke="#9a9a9a" stroke-width="1.5" fill="none"/>
<path d="M410.51 406.42H418.41M410.51 402.43H418.41" stroke="#888" stroke-width="1.5" fill="none"/>
<path d="M435.82 393.65V405.62" stroke="#9a9a9a" stroke-width="1.5" fill="none"/>
<path d="M431.87 405.62H439.77M431.87 393.65H439.77" stroke="#888" stroke-width="1.5" fill="none"/>
<path d="M457.18 390.55V398.54" stroke="#9a9a9a" stroke-width="1.5" fill="none"/>
<path d="M453.23 398.54H461.13M453.23 390.55H461.13" stroke="#888" stroke-width="1.5" fill="none"/>
<path d="M478.54 385.17V397.54" stroke="#9a9a9a" stroke-width="1.5" fill="none"/>
<path d="M474.59 397.54H482.49M474.59 385.17H482.49" stroke="#888" stroke-width="1.5" fill="none"/>
<path d="M499.9 376.28V396.24" stroke="#9a9a9a" stroke-width="1.5" fill="none"/>
<path d="M495.95 396.24H503.85M495.95 376.28H503.85" stroke="#888" stroke-width="1.5" fill="none"/>
<path d="M521.26 367.4V396.94" stroke="#9a9a9a" stroke-width="1.5" fill="none"/>
<path d="M517.31 396.94H525.21M517.31 367.4H525.21" stroke="#888" stroke-width="1.5" fill="none"/>
<path d="M542.62 364.71V394.65" stroke="#9a9a9a" stroke-width="1.5" fill="none"/>
<path d="M538.67 394.65H546.57M538.67 364.71H546.57" stroke="#888" stroke-width="1.5" fill="none"/>
<path d="M563.98 358.42V390.36" stroke="#9a9a9a" stroke-width="1.5" fill="none"/>
<path d="M560.03 390.36H567.93M560.03 358.42H567.93" stroke="#888" stroke-width="1.5" fill="none"/>
<path d="M585.34 342.85V389.96" stroke="#9a9a9a" stroke-width="1.5" fill="none"/>
<path d="M581.39 389.96H589.29M581.39 342.85H589.29" stroke="#888" stroke-width="1.5" fill="none"/>
<path d="M606.7 324.49V386.36" stroke="#9a9a9a" stroke-width="1.5" fill="none"/>
<path d="M602.75 386.36H610.65M602.75 324.49H610.65" stroke="#888" stroke-width="1.5" fill="none"/>
<path d="M628.06 302.33V380.18" stroke="#9a9a9a" stroke-width="1.5" fill="none"/>
<path d="M624.11 380.18H632.01M624.11 302.33H632.01" stroke="#888" stroke-width="1.5" fill="none"/>
<polyline points="393.1,416.8 414.46,404.43 435.82,399.64 457.18,394.55 478.54,391.35 499.9,386.26 521.26,382.17 542.62,379.68 563.98,374.39 585.34,366.4 606.7,355.43 628.06,341.25" fill="none" stroke="#000" stroke-width="1.3" stroke-linejoin="round"/>
<path d="M393.1 413.6L396.9 420L389.3 420Z" fill="#ee3535" stroke="#000" stroke-width="1.0" stroke-linejoin="miter"/>
<path d="M414.46 401.23L418.26 407.63L410.66 407.63Z" fill="#ee3535" stroke="#000" stroke-width="1.0" stroke-linejoin="miter"/>
<path d="M435.82 396.44L439.62 402.84L432.02 402.84Z" fill="#ee3535" stroke="#000" stroke-width="1.0" stroke-linejoin="miter"/>
<path d="M457.18 391.35L460.98 397.75L453.38 397.75Z" fill="#ee3535" stroke="#000" stroke-width="1.0" stroke-linejoin="miter"/>
<path d="M478.54 388.15L482.34 394.55L474.74 394.55Z" fill="#ee3535" stroke="#000" stroke-width="1.0" stroke-linejoin="miter"/>
<path d="M499.9 383.06L503.7 389.46L496.1 389.46Z" fill="#ee3535" stroke="#000" stroke-width="1.0" stroke-linejoin="miter"/>
<path d="M521.26 378.97L525.06 385.37L517.46 385.37Z" fill="#ee3535" stroke="#000" stroke-width="1.0" stroke-linejoin="miter"/>
<path d="M542.62 376.48L546.42 382.88L538.82 382.88Z" fill="#ee3535" stroke="#000" stroke-width="1.0" stroke-linejoin="miter"/>
<path d="M563.98 371.19L567.78 377.59L560.18 377.59Z" fill="#ee3535" stroke="#000" stroke-width="1.0" stroke-linejoin="miter"/>
<path d="M585.34 363.2L589.14 369.6L581.54 369.6Z" fill="#ee3535" stroke="#000" stroke-width="1.0" stroke-linejoin="miter"/>
<path d="M606.7 352.23L610.5 358.63L602.9 358.63Z" fill="#ee3535" stroke="#000" stroke-width="1.0" stroke-linejoin="miter"/>
<path d="M628.06 338.05L631.86 344.45L624.26 344.45Z" fill="#ee3535" stroke="#000" stroke-width="1.0" stroke-linejoin="miter"/>
<path d="M414.46 402.13V406.12" stroke="#9a9a9a" stroke-width="1.5" fill="none"/>
<path d="M410.51 406.12H418.41M410.51 402.13H418.41" stroke="#888" stroke-width="1.5" fill="none"/>
<path d="M435.82 382.97V402.93" stroke="#9a9a9a" stroke-width="1.5" fill="none"/>
<path d="M431.87 402.93H439.77M431.87 382.97H439.77" stroke="#888" stroke-width="1.5" fill="none"/>
<path d="M457.18 336.16V390.65" stroke="#9a9a9a" stroke-width="1.5" fill="none"/>
<path d="M453.23 390.65H461.13M453.23 336.16H461.13" stroke="#888" stroke-width="1.5" fill="none"/>
<path d="M478.54 313.51V379.38" stroke="#9a9a9a" stroke-width="1.5" fill="none"/>
<path d="M474.59 379.38H482.49M474.59 313.51H482.49" stroke="#888" stroke-width="1.5" fill="none"/>
<path d="M499.9 298.24V372.09" stroke="#9a9a9a" stroke-width="1.5" fill="none"/>
<path d="M495.95 372.09H503.85M495.95 298.24H503.85" stroke="#888" stroke-width="1.5" fill="none"/>
<path d="M521.26 293.25V352.53" stroke="#9a9a9a" stroke-width="1.5" fill="none"/>
<path d="M517.31 352.53H525.21M517.31 293.25H525.21" stroke="#888" stroke-width="1.5" fill="none"/>
<path d="M542.62 295.15V329.08" stroke="#9a9a9a" stroke-width="1.5" fill="none"/>
<path d="M538.67 329.08H546.57M538.67 295.15H546.57" stroke="#888" stroke-width="1.5" fill="none"/>
<path d="M563.98 299.14V317.1" stroke="#9a9a9a" stroke-width="1.5" fill="none"/>
<path d="M560.03 317.1H567.93M560.03 299.14H567.93" stroke="#888" stroke-width="1.5" fill="none"/>
<path d="M585.34 297.44V315.41" stroke="#9a9a9a" stroke-width="1.5" fill="none"/>
<path d="M581.39 315.41H589.29M581.39 297.44H589.29" stroke="#888" stroke-width="1.5" fill="none"/>
<path d="M606.7 296.74V312.71" stroke="#9a9a9a" stroke-width="1.5" fill="none"/>
<path d="M602.75 312.71H610.65M602.75 296.74H610.65" stroke="#888" stroke-width="1.5" fill="none"/>
<path d="M628.06 284.17V310.12" stroke="#9a9a9a" stroke-width="1.5" fill="none"/>
<path d="M624.11 310.12H632.01M624.11 284.17H632.01" stroke="#888" stroke-width="1.5" fill="none"/>
<polyline points="393.1,416.8 414.46,404.13 435.82,392.95 457.18,363.41 478.54,346.44 499.9,335.17 521.26,322.89 542.62,312.11 563.98,308.12 585.34,306.42 606.7,304.73 628.06,297.14" fill="none" stroke="#000" stroke-width="1.3" stroke-linejoin="round"/>
<circle cx="393.1" cy="416.8" r="3.3" fill="#93121f" stroke="#000" stroke-width="1.0"/>
<circle cx="414.46" cy="404.13" r="3.3" fill="#93121f" stroke="#000" stroke-width="1.0"/>
<circle cx="435.82" cy="392.95" r="3.3" fill="#93121f" stroke="#000" stroke-width="1.0"/>
<circle cx="457.18" cy="363.41" r="3.3" fill="#93121f" stroke="#000" stroke-width="1.0"/>
<circle cx="478.54" cy="346.44" r="3.3" fill="#93121f" stroke="#000" stroke-width="1.0"/>
<circle cx="499.9" cy="335.17" r="3.3" fill="#93121f" stroke="#000" stroke-width="1.0"/>
<circle cx="521.26" cy="322.89" r="3.3" fill="#93121f" stroke="#000" stroke-width="1.0"/>
<circle cx="542.62" cy="312.11" r="3.3" fill="#93121f" stroke="#000" stroke-width="1.0"/>
<circle cx="563.98" cy="308.12" r="3.3" fill="#93121f" stroke="#000" stroke-width="1.0"/>
<circle cx="585.34" cy="306.42" r="3.3" fill="#93121f" stroke="#000" stroke-width="1.0"/>
<circle cx="606.7" cy="304.73" r="3.3" fill="#93121f" stroke="#000" stroke-width="1.0"/>
<circle cx="628.06" cy="297.14" r="3.3" fill="#93121f" stroke="#000" stroke-width="1.0"/>
<text x="352.9" y="486" class="pl">f</text>
<text x="521.9" y="485.8" class="tt" text-anchor="middle">neutral pH • strong zinc depletion</text>
<path d="M393.1 500.1V649.8H649.1" fill="none" stroke="#000" stroke-width="2" stroke-linecap="square"/>
<path d="M387.9 649.8H393.1" stroke="#000" stroke-width="2"/>
<text x="386.5" y="653.4" class="tk" text-anchor="end">0.0</text>
<path d="M387.9 599.9H393.1" stroke="#000" stroke-width="2"/>
<text x="386.5" y="603.5" class="tk" text-anchor="end">0.5</text>
<path d="M387.9 550H393.1" stroke="#000" stroke-width="2"/>
<text x="386.5" y="553.6" class="tk" text-anchor="end">1.0</text>
<path d="M387.9 500.1H393.1" stroke="#000" stroke-width="2"/>
<text x="386.5" y="503.7" class="tk" text-anchor="end">1.5</text>
<path d="M393.1 649.8V655.1" stroke="#000" stroke-width="2"/>
<text x="393.1" y="666.1" class="tk" text-anchor="middle">0</text>
<path d="M435.82 649.8V655.1" stroke="#000" stroke-width="2"/>
<text x="435.82" y="666.1" class="tk" text-anchor="middle">2</text>
<path d="M478.54 649.8V655.1" stroke="#000" stroke-width="2"/>
<text x="478.54" y="666.1" class="tk" text-anchor="middle">4</text>
<path d="M521.26 649.8V655.1" stroke="#000" stroke-width="2"/>
<text x="521.26" y="666.1" class="tk" text-anchor="middle">6</text>
<path d="M563.98 649.8V655.1" stroke="#000" stroke-width="2"/>
<text x="563.98" y="666.1" class="tk" text-anchor="middle">8</text>
<path d="M606.7 649.8V655.1" stroke="#000" stroke-width="2"/>
<text x="606.7" y="666.1" class="tk" text-anchor="middle">10</text>
<path d="M649.42 649.8V655.1" stroke="#000" stroke-width="2"/>
<text x="649.42" y="666.1" class="tk" text-anchor="middle">12</text>
<text x="521.1" y="681.1" class="tk" text-anchor="middle">Days</text>
<text transform="translate(361 585.95) rotate(-90)" class="tk">OD<tspan class="sub" dy="1.9">600</tspan></text>
<path d="M414.46 632.83V636.83" stroke="#9a9a9a" stroke-width="1.5" fill="none"/>
<path d="M410.51 636.83H418.41M410.51 632.83H418.41" stroke="#888" stroke-width="1.5" fill="none"/>
<path d="M435.82 627.84V635.83" stroke="#9a9a9a" stroke-width="1.5" fill="none"/>
<path d="M431.87 635.83H439.77M431.87 627.84H439.77" stroke="#888" stroke-width="1.5" fill="none"/>
<path d="M457.18 620.86V632.83" stroke="#9a9a9a" stroke-width="1.5" fill="none"/>
<path d="M453.23 632.83H461.13M453.23 620.86H461.13" stroke="#888" stroke-width="1.5" fill="none"/>
<path d="M478.54 612.87V632.83" stroke="#9a9a9a" stroke-width="1.5" fill="none"/>
<path d="M474.59 632.83H482.49M474.59 612.87H482.49" stroke="#888" stroke-width="1.5" fill="none"/>
<path d="M499.9 607.98V631.94" stroke="#9a9a9a" stroke-width="1.5" fill="none"/>
<path d="M495.95 631.94H503.85M495.95 607.98H503.85" stroke="#888" stroke-width="1.5" fill="none"/>
<path d="M521.26 605.89V629.84" stroke="#9a9a9a" stroke-width="1.5" fill="none"/>
<path d="M517.31 629.84H525.21M517.31 605.89H525.21" stroke="#888" stroke-width="1.5" fill="none"/>
<path d="M542.62 603.69V629.64" stroke="#9a9a9a" stroke-width="1.5" fill="none"/>
<path d="M538.67 629.64H546.57M538.67 603.69H546.57" stroke="#888" stroke-width="1.5" fill="none"/>
<path d="M563.98 608.58V628.54" stroke="#9a9a9a" stroke-width="1.5" fill="none"/>
<path d="M560.03 628.54H567.93M560.03 608.58H567.93" stroke="#888" stroke-width="1.5" fill="none"/>
<path d="M585.34 607.09V627.05" stroke="#9a9a9a" stroke-width="1.5" fill="none"/>
<path d="M581.39 627.05H589.29M581.39 607.09H589.29" stroke="#888" stroke-width="1.5" fill="none"/>
<path d="M606.7 605.69V625.65" stroke="#9a9a9a" stroke-width="1.5" fill="none"/>
<path d="M602.75 625.65H610.65M602.75 605.69H610.65" stroke="#888" stroke-width="1.5" fill="none"/>
<path d="M628.06 602.59V620.56" stroke="#9a9a9a" stroke-width="1.5" fill="none"/>
<path d="M624.11 620.56H632.01M624.11 602.59H632.01" stroke="#888" stroke-width="1.5" fill="none"/>
<polyline points="393.1,648.7 414.46,634.83 435.82,631.84 457.18,626.85 478.54,622.85 499.9,619.96 521.26,617.86 542.62,616.67 563.98,618.56 585.34,617.07 606.7,615.67 628.06,611.58" fill="none" stroke="#000" stroke-width="1.3" stroke-linejoin="round"/>
<path d="M393.1 645.3L396.8 648.7L393.1 652.1L389.4 648.7Z" fill="#f09030" stroke="#000" stroke-width="1.0"/>
<path d="M414.46 631.43L418.16 634.83L414.46 638.23L410.76 634.83Z" fill="#f09030" stroke="#000" stroke-width="1.0"/>
<path d="M435.82 628.44L439.52 631.84L435.82 635.24L432.12 631.84Z" fill="#f09030" stroke="#000" stroke-width="1.0"/>
<path d="M457.18 623.45L460.88 626.85L457.18 630.25L453.48 626.85Z" fill="#f09030" stroke="#000" stroke-width="1.0"/>
<path d="M478.54 619.45L482.24 622.85L478.54 626.25L474.84 622.85Z" fill="#f09030" stroke="#000" stroke-width="1.0"/>
<path d="M499.9 616.56L503.6 619.96L499.9 623.36L496.2 619.96Z" fill="#f09030" stroke="#000" stroke-width="1.0"/>
<path d="M521.26 614.46L524.96 617.86L521.26 621.26L517.56 617.86Z" fill="#f09030" stroke="#000" stroke-width="1.0"/>
<path d="M542.62 613.27L546.32 616.67L542.62 620.07L538.92 616.67Z" fill="#f09030" stroke="#000" stroke-width="1.0"/>
<path d="M563.98 615.16L567.68 618.56L563.98 621.96L560.28 618.56Z" fill="#f09030" stroke="#000" stroke-width="1.0"/>
<path d="M585.34 613.67L589.04 617.07L585.34 620.47L581.64 617.07Z" fill="#f09030" stroke="#000" stroke-width="1.0"/>
<path d="M606.7 612.27L610.4 615.67L606.7 619.07L603 615.67Z" fill="#f09030" stroke="#000" stroke-width="1.0"/>
<path d="M628.06 608.18L631.76 611.58L628.06 614.98L624.36 611.58Z" fill="#f09030" stroke="#000" stroke-width="1.0"/>
<path d="M414.46 632.83V636.83" stroke="#9a9a9a" stroke-width="1.5" fill="none"/>
<path d="M410.51 636.83H418.41M410.51 632.83H418.41" stroke="#888" stroke-width="1.5" fill="none"/>
<path d="M435.82 624.85V634.83" stroke="#9a9a9a" stroke-width="1.5" fill="none"/>
<path d="M431.87 634.83H439.77M431.87 624.85H439.77" stroke="#888" stroke-width="1.5" fill="none"/>
<path d="M457.18 618.46V630.44" stroke="#9a9a9a" stroke-width="1.5" fill="none"/>
<path d="M453.23 630.44H461.13M453.23 618.46H461.13" stroke="#888" stroke-width="1.5" fill="none"/>
<path d="M478.54 605.29V629.24" stroke="#9a9a9a" stroke-width="1.5" fill="none"/>
<path d="M474.59 629.24H482.49M474.59 605.29H482.49" stroke="#888" stroke-width="1.5" fill="none"/>
<path d="M499.9 584.13V634.03" stroke="#9a9a9a" stroke-width="1.5" fill="none"/>
<path d="M495.95 634.03H503.85M495.95 584.13H503.85" stroke="#888" stroke-width="1.5" fill="none"/>
<path d="M521.26 567.86V627.74" stroke="#9a9a9a" stroke-width="1.5" fill="none"/>
<path d="M517.31 627.74H525.21M517.31 567.86H525.21" stroke="#888" stroke-width="1.5" fill="none"/>
<path d="M542.62 549.3V627.15" stroke="#9a9a9a" stroke-width="1.5" fill="none"/>
<path d="M538.67 627.15H546.57M538.67 549.3H546.57" stroke="#888" stroke-width="1.5" fill="none"/>
<path d="M563.98 553.89V620.76" stroke="#9a9a9a" stroke-width="1.5" fill="none"/>
<path d="M560.03 620.76H567.93M560.03 553.89H567.93" stroke="#888" stroke-width="1.5" fill="none"/>
<path d="M585.34 537.33V627.15" stroke="#9a9a9a" stroke-width="1.5" fill="none"/>
<path d="M581.39 627.15H589.29M581.39 537.33H589.29" stroke="#888" stroke-width="1.5" fill="none"/>
<path d="M606.7 538.62V612.47" stroke="#9a9a9a" stroke-width="1.5" fill="none"/>
<path d="M602.75 612.47H610.65M602.75 538.62H610.65" stroke="#888" stroke-width="1.5" fill="none"/>
<path d="M628.06 520.56V605.79" stroke="#9a9a9a" stroke-width="1.5" fill="none"/>
<path d="M624.11 605.79H632.01M624.11 520.56H632.01" stroke="#888" stroke-width="1.5" fill="none"/>
<polyline points="393.1,648.7 414.46,634.83 435.82,629.84 457.18,624.45 478.54,617.27 499.9,609.08 521.26,597.8 542.62,588.22 563.98,587.33 585.34,582.24 606.7,575.55 628.06,563.17" fill="none" stroke="#000" stroke-width="1.3" stroke-linejoin="round"/>
<path d="M393.1 651.8L396.9 645.6L389.3 645.6Z" fill="#f0ea7a" stroke="#000" stroke-width="1.0" stroke-linejoin="miter"/>
<path d="M414.46 637.93L418.26 631.73L410.66 631.73Z" fill="#f0ea7a" stroke="#000" stroke-width="1.0" stroke-linejoin="miter"/>
<path d="M435.82 632.94L439.62 626.74L432.02 626.74Z" fill="#f0ea7a" stroke="#000" stroke-width="1.0" stroke-linejoin="miter"/>
<path d="M457.18 627.55L460.98 621.35L453.38 621.35Z" fill="#f0ea7a" stroke="#000" stroke-width="1.0" stroke-linejoin="miter"/>
<path d="M478.54 620.37L482.34 614.17L474.74 614.17Z" fill="#f0ea7a" stroke="#000" stroke-width="1.0" stroke-linejoin="miter"/>
<path d="M499.9 612.18L503.7 605.98L496.1 605.98Z" fill="#f0ea7a" stroke="#000" stroke-width="1.0" stroke-linejoin="miter"/>
<path d="M521.26 600.9L525.06 594.7L517.46 594.7Z" fill="#f0ea7a" stroke="#000" stroke-width="1.0" stroke-linejoin="miter"/>
<path d="M542.62 591.32L546.42 585.12L538.82 585.12Z" fill="#f0ea7a" stroke="#000" stroke-width="1.0" stroke-linejoin="miter"/>
<path d="M563.98 590.43L567.78 584.23L560.18 584.23Z" fill="#f0ea7a" stroke="#000" stroke-width="1.0" stroke-linejoin="miter"/>
<path d="M585.34 585.34L589.14 579.14L581.54 579.14Z" fill="#f0ea7a" stroke="#000" stroke-width="1.0" stroke-linejoin="miter"/>
<path d="M606.7 578.65L610.5 572.45L602.9 572.45Z" fill="#f0ea7a" stroke="#000" stroke-width="1.0" stroke-linejoin="miter"/>
<path d="M628.06 566.27L631.86 560.07L624.26 560.07Z" fill="#f0ea7a" stroke="#000" stroke-width="1.0" stroke-linejoin="miter"/>
<path d="M414.46 632.83V636.83" stroke="#9a9a9a" stroke-width="1.5" fill="none"/>
<path d="M410.51 636.83H418.41M410.51 632.83H418.41" stroke="#888" stroke-width="1.5" fill="none"/>
<path d="M435.82 629.84V637.82" stroke="#9a9a9a" stroke-width="1.5" fill="none"/>
<path d="M431.87 637.82H439.77M431.87 629.84H439.77" stroke="#888" stroke-width="1.5" fill="none"/>
<path d="M457.18 624.15V634.13" stroke="#9a9a9a" stroke-width="1.5" fill="none"/>
<path d="M453.23 634.13H461.13M453.23 624.15H461.13" stroke="#888" stroke-width="1.5" fill="none"/>
<path d="M478.54 621.56V633.53" stroke="#9a9a9a" stroke-width="1.5" fill="none"/>
<path d="M474.59 633.53H482.49M474.59 621.56H482.49" stroke="#888" stroke-width="1.5" fill="none"/>
<path d="M499.9 617.56V633.53" stroke="#9a9a9a" stroke-width="1.5" fill="none"/>
<path d="M495.95 633.53H503.85M495.95 617.56H503.85" stroke="#888" stroke-width="1.5" fill="none"/>
<path d="M521.26 614.87V630.84" stroke="#9a9a9a" stroke-width="1.5" fill="none"/>
<path d="M517.31 630.84H525.21M517.31 614.87H525.21" stroke="#888" stroke-width="1.5" fill="none"/>
<path d="M542.62 615.37V631.34" stroke="#9a9a9a" stroke-width="1.5" fill="none"/>
<path d="M538.67 631.34H546.57M538.67 615.37H546.57" stroke="#888" stroke-width="1.5" fill="none"/>
<path d="M563.98 619.56V631.54" stroke="#9a9a9a" stroke-width="1.5" fill="none"/>
<path d="M560.03 631.54H567.93M560.03 619.56H567.93" stroke="#888" stroke-width="1.5" fill="none"/>
<path d="M585.34 618.26V632.24" stroke="#9a9a9a" stroke-width="1.5" fill="none"/>
<path d="M581.39 632.24H589.29M581.39 618.26H589.29" stroke="#888" stroke-width="1.5" fill="none"/>
<path d="M606.7 616.27V632.24" stroke="#9a9a9a" stroke-width="1.5" fill="none"/>
<path d="M602.75 632.24H610.65M602.75 616.27H610.65" stroke="#888" stroke-width="1.5" fill="none"/>
<path d="M628.06 609.48V629.44" stroke="#9a9a9a" stroke-width="1.5" fill="none"/>
<path d="M624.11 629.44H632.01M624.11 609.48H632.01" stroke="#888" stroke-width="1.5" fill="none"/>
<polyline points="393.1,648.7 414.46,634.83 435.82,633.83 457.18,629.14 478.54,627.54 499.9,625.55 521.26,622.85 542.62,623.35 563.98,625.55 585.34,625.25 606.7,624.25 628.06,619.46" fill="none" stroke="#000" stroke-width="1.3" stroke-linejoin="round"/>
<path d="M393.1 645.5L396.9 651.9L389.3 651.9Z" fill="#ee3535" stroke="#000" stroke-width="1.0" stroke-linejoin="miter"/>
<path d="M414.46 631.63L418.26 638.03L410.66 638.03Z" fill="#ee3535" stroke="#000" stroke-width="1.0" stroke-linejoin="miter"/>
<path d="M435.82 630.63L439.62 637.03L432.02 637.03Z" fill="#ee3535" stroke="#000" stroke-width="1.0" stroke-linejoin="miter"/>
<path d="M457.18 625.94L460.98 632.34L453.38 632.34Z" fill="#ee3535" stroke="#000" stroke-width="1.0" stroke-linejoin="miter"/>
<path d="M478.54 624.34L482.34 630.74L474.74 630.74Z" fill="#ee3535" stroke="#000" stroke-width="1.0" stroke-linejoin="miter"/>
<path d="M499.9 622.35L503.7 628.75L496.1 628.75Z" fill="#ee3535" stroke="#000" stroke-width="1.0" stroke-linejoin="miter"/>
<path d="M521.26 619.65L525.06 626.05L517.46 626.05Z" fill="#ee3535" stroke="#000" stroke-width="1.0" stroke-linejoin="miter"/>
<path d="M542.62 620.15L546.42 626.55L538.82 626.55Z" fill="#ee3535" stroke="#000" stroke-width="1.0" stroke-linejoin="miter"/>
<path d="M563.98 622.35L567.78 628.75L560.18 628.75Z" fill="#ee3535" stroke="#000" stroke-width="1.0" stroke-linejoin="miter"/>
<path d="M585.34 622.05L589.14 628.45L581.54 628.45Z" fill="#ee3535" stroke="#000" stroke-width="1.0" stroke-linejoin="miter"/>
<path d="M606.7 621.05L610.5 627.45L602.9 627.45Z" fill="#ee3535" stroke="#000" stroke-width="1.0" stroke-linejoin="miter"/>
<path d="M628.06 616.26L631.86 622.66L624.26 622.66Z" fill="#ee3535" stroke="#000" stroke-width="1.0" stroke-linejoin="miter"/>
<path d="M414.46 632.73V636.73" stroke="#9a9a9a" stroke-width="1.5" fill="none"/>
<path d="M410.51 636.73H418.41M410.51 632.73H418.41" stroke="#888" stroke-width="1.5" fill="none"/>
<path d="M435.82 622.16V636.13" stroke="#9a9a9a" stroke-width="1.5" fill="none"/>
<path d="M431.87 636.13H439.77M431.87 622.16H439.77" stroke="#888" stroke-width="1.5" fill="none"/>
<path d="M457.18 613.47V627.44" stroke="#9a9a9a" stroke-width="1.5" fill="none"/>
<path d="M453.23 627.44H461.13M453.23 613.47H461.13" stroke="#888" stroke-width="1.5" fill="none"/>
<path d="M478.54 593.41V622.75" stroke="#9a9a9a" stroke-width="1.5" fill="none"/>
<path d="M474.59 622.75H482.49M474.59 593.41H482.49" stroke="#888" stroke-width="1.5" fill="none"/>
<path d="M499.9 550.7V618.56" stroke="#9a9a9a" stroke-width="1.5" fill="none"/>
<path d="M495.95 618.56H503.85M495.95 550.7H503.85" stroke="#888" stroke-width="1.5" fill="none"/>
<path d="M521.26 527.54V607.38" stroke="#9a9a9a" stroke-width="1.5" fill="none"/>
<path d="M517.31 607.38H525.21M517.31 527.54H525.21" stroke="#888" stroke-width="1.5" fill="none"/>
<path d="M542.62 526.75V596.61" stroke="#9a9a9a" stroke-width="1.5" fill="none"/>
<path d="M538.67 596.61H546.57M538.67 526.75H546.57" stroke="#888" stroke-width="1.5" fill="none"/>
<path d="M563.98 529.44V584.53" stroke="#9a9a9a" stroke-width="1.5" fill="none"/>
<path d="M560.03 584.53H567.93M560.03 529.44H567.93" stroke="#888" stroke-width="1.5" fill="none"/>
<path d="M585.34 524.75V577.05" stroke="#9a9a9a" stroke-width="1.5" fill="none"/>
<path d="M581.39 577.05H589.29M581.39 524.75H589.29" stroke="#888" stroke-width="1.5" fill="none"/>
<path d="M606.7 522.36V564.87" stroke="#9a9a9a" stroke-width="1.5" fill="none"/>
<path d="M602.75 564.87H610.65M602.75 522.36H610.65" stroke="#888" stroke-width="1.5" fill="none"/>
<path d="M628.06 513.27V554.39" stroke="#9a9a9a" stroke-width="1.5" fill="none"/>
<path d="M624.11 554.39H632.01M624.11 513.27H632.01" stroke="#888" stroke-width="1.5" fill="none"/>
<polyline points="393.1,648.7 414.46,634.73 435.82,629.14 457.18,620.46 478.54,608.08 499.9,584.63 521.26,567.46 542.62,561.68 563.98,556.99 585.34,550.9 606.7,543.61 628.06,533.83" fill="none" stroke="#000" stroke-width="1.3" stroke-linejoin="round"/>
<circle cx="393.1" cy="648.7" r="3.3" fill="#93121f" stroke="#000" stroke-width="1.0"/>
<circle cx="414.46" cy="634.73" r="3.3" fill="#93121f" stroke="#000" stroke-width="1.0"/>
<circle cx="435.82" cy="629.14" r="3.3" fill="#93121f" stroke="#000" stroke-width="1.0"/>
<circle cx="457.18" cy="620.46" r="3.3" fill="#93121f" stroke="#000" stroke-width="1.0"/>
<circle cx="478.54" cy="608.08" r="3.3" fill="#93121f" stroke="#000" stroke-width="1.0"/>
<circle cx="499.9" cy="584.63" r="3.3" fill="#93121f" stroke="#000" stroke-width="1.0"/>
<circle cx="521.26" cy="567.46" r="3.3" fill="#93121f" stroke="#000" stroke-width="1.0"/>
<circle cx="542.62" cy="561.68" r="3.3" fill="#93121f" stroke="#000" stroke-width="1.0"/>
<circle cx="563.98" cy="556.99" r="3.3" fill="#93121f" stroke="#000" stroke-width="1.0"/>
<circle cx="585.34" cy="550.9" r="3.3" fill="#93121f" stroke="#000" stroke-width="1.0"/>
<circle cx="606.7" cy="543.61" r="3.3" fill="#93121f" stroke="#000" stroke-width="1.0"/>
<circle cx="628.06" cy="533.83" r="3.3" fill="#93121f" stroke="#000" stroke-width="1.0"/>
<path d="M45 753.8H62.6" stroke="#000" stroke-width="1.6"/>
<circle cx="53.9" cy="753.8" r="4.29" fill="#93121f" stroke="#000" stroke-width="1.4"/>
<text x="71" y="757.9" class="lg" style="font-style:normal">Wt</text>
<path d="M45 774.9H62.6" stroke="#000" stroke-width="1.6"/>
<path d="M53.9 770.32L59.33 779.48L48.47 779.48Z" fill="#ee3535" stroke="#000" stroke-width="1.4" stroke-linejoin="miter"/>
<text x="71" y="778.9" class="lg">pra1Δ</text>
<path d="M45 795.7H62.6" stroke="#000" stroke-width="1.6"/>
<path d="M53.9 800.13L59.33 791.27L48.47 791.27Z" fill="#f0ea7a" stroke="#000" stroke-width="1.4" stroke-linejoin="miter"/>
<text x="71" y="799.9" class="lg">pra1Δ+PRA1</text>
<path d="M45 816.3H62.6" stroke="#000" stroke-width="1.6"/>
<path d="M53.9 811.54L59.08 816.3L53.9 821.06L48.72 816.3Z" fill="#f09030" stroke="#000" stroke-width="1.4"/>
<text x="71" y="820.1" class="lg">pra1Δ+PRA1<tspan style="font-size:9px" dy="-4.2">His-to-Ala</tspan></text>
<text x="276.2" y="724.4" style="font-size:22.5px;font-weight:bold;fill:#231f20">g</text>
<text x="318.4" y="735.4" class="hd">Acidic</text>
<text x="520.6" y="734.8" class="hd">Neutral</text>
<text x="266.7" y="751.5" class="rl">Replete</text>
<text x="266.7" y="767.6" class="rl">Mild</text>
<text x="266.7" y="784.0" class="rl">Strong</text>
<clipPath id="hc1"><rect x="318.2" y="742.4" width="164" height="45.6"/></clipPath>
<g clip-path="url(#hc1)">
<rect x="318.2" y="742.4" width="42.2" height="16.4" fill="#a34e8e"/>
<rect x="359.2" y="742.4" width="42.2" height="16.4" fill="#a34e8e"/>
<rect x="400.2" y="742.4" width="42.2" height="16.4" fill="#a34e8e"/>
<rect x="441.2" y="742.4" width="42.2" height="16.4" fill="#a34e8e"/>
<rect x="318.2" y="757.6" width="42.2" height="16.4" fill="#a34e8e"/>
<rect x="359.2" y="757.6" width="42.2" height="16.4" fill="#6a84c0"/>
<rect x="400.2" y="757.6" width="42.2" height="16.4" fill="#9a6aa0"/>
<rect x="441.2" y="757.6" width="42.2" height="16.4" fill="#a05a98"/>
<rect x="318.2" y="772.8" width="42.2" height="16.4" fill="#69a6da"/>
<rect x="359.2" y="772.8" width="42.2" height="16.4" fill="#15aaa8"/>
<rect x="400.2" y="772.8" width="42.2" height="16.4" fill="#3bbde5"/>
<rect x="441.2" y="772.8" width="42.2" height="16.4" fill="#3cbfe6"/>
</g>
<text x="326.2" y="753.9" class="hm">12.0</text>
<text x="367.2" y="753.9" class="hm">12.4</text>
<text x="408.2" y="753.9" class="hm">12.4</text>
<text x="450.6" y="753.9" class="hm">12.6</text>
<text x="326.2" y="769.1" class="hm">5.7</text>
<text x="367.2" y="769.1" class="hm">3.7</text>
<text x="408.2" y="769.1" class="hm">4.4</text>
<text x="450.6" y="769.1" class="hm">4.6</text>
<text x="326.2" y="784.3" class="hm">3.2</text>
<text x="367.2" y="784.3" class="hm">2.0</text>
<text x="408.2" y="784.3" class="hm">2.6</text>
<text x="450.6" y="784.3" class="hm">2.3</text>
<rect x="318.2" y="742.4" width="164" height="45.6" fill="none" stroke="#333" stroke-width="1.2"/>
<clipPath id="hc2"><rect x="520.8" y="742.2" width="163.2" height="45.3"/></clipPath>
<g clip-path="url(#hc2)">
<rect x="520.8" y="742.2" width="42" height="16.3" fill="#a34e8e"/>
<rect x="561.6" y="742.2" width="42" height="16.3" fill="#a34e8e"/>
<rect x="602.4" y="742.2" width="42" height="16.3" fill="#a34e8e"/>
<rect x="643.2" y="742.2" width="42" height="16.3" fill="#a34e8e"/>
<rect x="520.8" y="757.3" width="42" height="16.3" fill="#a34e8e"/>
<rect x="561.6" y="757.3" width="42" height="16.3" fill="#6b85c2"/>
<rect x="602.4" y="757.3" width="42" height="16.3" fill="#a34e8e"/>
<rect x="643.2" y="757.3" width="42" height="16.3" fill="#9e5d9c"/>
<rect x="520.8" y="772.4" width="42" height="16.3" fill="#a04e8f"/>
<rect x="561.6" y="772.4" width="42" height="16.3" fill="#3cbde6"/>
<rect x="602.4" y="772.4" width="42" height="16.3" fill="#9a6aa0"/>
<rect x="643.2" y="772.4" width="42" height="16.3" fill="#3cbde6"/>
</g>
<text x="530.1" y="753.7" class="hm">10.9</text>
<text x="570.6" y="753.7" class="hm">10.9</text>
<text x="611.7" y="753.7" class="hm">10.9</text>
<text x="654.2" y="753.7" class="hm">11.1</text>
<text x="530.1" y="768.8" class="hm">8.4</text>
<text x="570.6" y="768.8" class="hm">3.9</text>
<text x="611.7" y="768.8" class="hm">8.5</text>
<text x="654.2" y="768.8" class="hm">4.5</text>
<text x="530.1" y="783.9" class="hm">7.0</text>
<text x="570.6" y="783.9" class="hm">2.5</text>
<text x="611.7" y="783.9" class="hm">4.9</text>
<text x="654.2" y="783.9" class="hm">2.9</text>
<rect x="520.8" y="742.2" width="163.2" height="45.3" fill="none" stroke="#333" stroke-width="1.2"/>
<text transform="translate(338.7 800) rotate(-44)" class="xl" text-anchor="end">Wt</text>
<text transform="translate(379.7 800.5) rotate(-44)" class="xl" text-anchor="end">pra1∆</text>
<text transform="translate(420.2 800.5) rotate(-44)" class="xl" text-anchor="end">pra1∆+ PRA1</text>
<text transform="translate(463.2 802.5) rotate(-44)" class="xl" text-anchor="end">pra1∆+ PRA1<tspan style="font-size:7.8px" dy="-4.5">His-to-Ala</tspan></text>
<text transform="translate(543.7 801) rotate(-44)" class="xl" text-anchor="end">Wt</text>
<text transform="translate(584.3 800) rotate(-44)" class="xl" text-anchor="end">pra1∆</text>
<text transform="translate(625.1 800.5) rotate(-44)" class="xl" text-anchor="end">pra1∆+ PRA1</text>
<text transform="translate(668.1 803.5) rotate(-44)" class="xl" text-anchor="end">pra1∆+ PRA1<tspan style="font-size:7.8px" dy="-4.5">His-to-Ala</tspan></text>
</svg></body></html>
